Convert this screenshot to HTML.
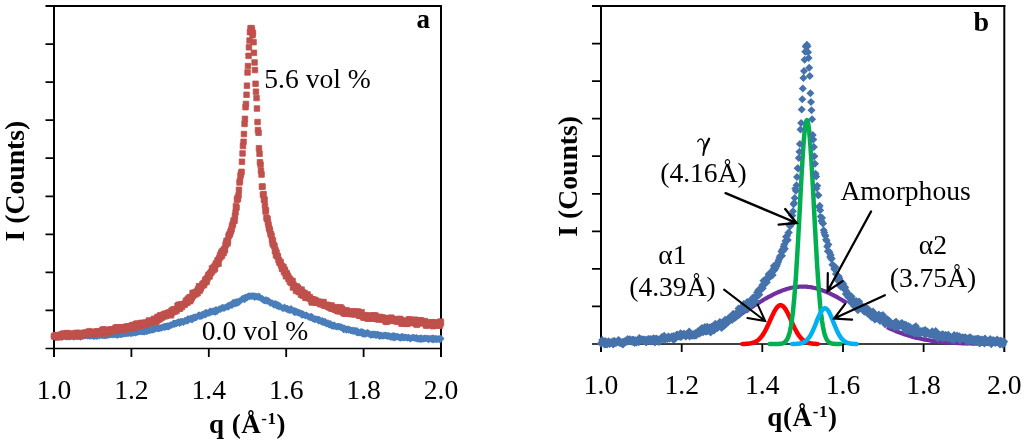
<!DOCTYPE html>
<html><head><meta charset="utf-8"><style>
html,body{margin:0;padding:0;background:#fff;width:1024px;height:443px;overflow:hidden;font-family:"Liberation Serif",serif}
svg{display:block;filter:blur(0.35px)}
</style></head><body>
<svg width="1024" height="443" viewBox="0 0 1024 443">
<rect width="1024" height="443" fill="#fff"/>
<path d="M45.5 6H442" stroke="#000" stroke-width="2"/>
<path d="M54 5V357" stroke="#000" stroke-width="2"/>
<path d="M441 5V357" stroke="#000" stroke-width="2"/>
<path d="M45.5 348.5H441" stroke="#000" stroke-width="1.5"/>
<path d="M45.5 44.1H54M45.5 82.1H54M45.5 120.2H54M45.5 158.2H54M45.5 196.3H54M45.5 234.3H54M45.5 272.4H54M45.5 310.4H54M131.4 348.5V357M208.8 348.5V357M286.2 348.5V357M363.6 348.5V357" stroke="#000" stroke-width="1.8"/>
<path fill="#4A7EBB" d="M54 333l3.5 3.5-3.5 3.5-3.5-3.5zM54.5 333.6l3.5 3.5-3.5 3.5-3.5-3.5zM55 333.6l3.5 3.5-3.5 3.5-3.5-3.5zM55.5 334l3.5 3.5-3.5 3.5-3.5-3.5zM56 332.5l3.5 3.5-3.5 3.5-3.5-3.5zM56.5 333.6l3.5 3.5-3.5 3.5-3.5-3.5zM57 333.1l3.5 3.5-3.5 3.5-3.5-3.5zM57.5 332.9l3.5 3.5-3.5 3.5-3.5-3.5zM58 333.5l3.5 3.5-3.5 3.5-3.5-3.5zM58.5 332.8l3.5 3.5-3.5 3.5-3.5-3.5zM59 332.2l3.5 3.5-3.5 3.5-3.5-3.5zM59.5 333l3.5 3.5-3.5 3.5-3.5-3.5zM60 332.4l3.5 3.5-3.5 3.5-3.5-3.5zM60.5 332.8l3.5 3.5-3.5 3.5-3.5-3.5zM61 333.4l3.5 3.5-3.5 3.5-3.5-3.5zM61.5 333.3l3.5 3.5-3.5 3.5-3.5-3.5zM62 334l3.5 3.5-3.5 3.5-3.5-3.5zM62.5 333l3.5 3.5-3.5 3.5-3.5-3.5zM63 332.3l3.5 3.5-3.5 3.5-3.5-3.5zM63.5 332.7l3.5 3.5-3.5 3.5-3.5-3.5zM64 332.6l3.5 3.5-3.5 3.5-3.5-3.5zM64.5 332.5l3.5 3.5-3.5 3.5-3.5-3.5zM65 333.3l3.5 3.5-3.5 3.5-3.5-3.5zM65.5 332.7l3.5 3.5-3.5 3.5-3.5-3.5zM66 332l3.5 3.5-3.5 3.5-3.5-3.5zM66.5 333.4l3.5 3.5-3.5 3.5-3.5-3.5zM67 333l3.5 3.5-3.5 3.5-3.5-3.5zM67.5 333.2l3.5 3.5-3.5 3.5-3.5-3.5zM68 333.1l3.5 3.5-3.5 3.5-3.5-3.5zM68.5 333.3l3.5 3.5-3.5 3.5-3.5-3.5zM69 333l3.5 3.5-3.5 3.5-3.5-3.5zM69.5 333.6l3.5 3.5-3.5 3.5-3.5-3.5zM70 333.2l3.5 3.5-3.5 3.5-3.5-3.5zM70.5 333.1l3.5 3.5-3.5 3.5-3.5-3.5zM71 333.1l3.5 3.5-3.5 3.5-3.5-3.5zM71.5 332.2l3.5 3.5-3.5 3.5-3.5-3.5zM72 332.8l3.5 3.5-3.5 3.5-3.5-3.5zM72.5 332.8l3.5 3.5-3.5 3.5-3.5-3.5zM73 333l3.5 3.5-3.5 3.5-3.5-3.5zM73.5 332.2l3.5 3.5-3.5 3.5-3.5-3.5zM74 333.7l3.5 3.5-3.5 3.5-3.5-3.5zM74.5 332.9l3.5 3.5-3.5 3.5-3.5-3.5zM75 332.2l3.5 3.5-3.5 3.5-3.5-3.5zM75.5 331.9l3.5 3.5-3.5 3.5-3.5-3.5zM76 332.6l3.5 3.5-3.5 3.5-3.5-3.5zM76.5 332.7l3.5 3.5-3.5 3.5-3.5-3.5zM77 332.4l3.5 3.5-3.5 3.5-3.5-3.5zM77.5 332.8l3.5 3.5-3.5 3.5-3.5-3.5zM78 332.4l3.5 3.5-3.5 3.5-3.5-3.5zM78.5 333l3.5 3.5-3.5 3.5-3.5-3.5zM79 332.3l3.5 3.5-3.5 3.5-3.5-3.5zM79.5 332.7l3.5 3.5-3.5 3.5-3.5-3.5zM80 333.2l3.5 3.5-3.5 3.5-3.5-3.5zM80.5 333.8l3.5 3.5-3.5 3.5-3.5-3.5zM81 332.1l3.5 3.5-3.5 3.5-3.5-3.5zM81.5 332.4l3.5 3.5-3.5 3.5-3.5-3.5zM82 332.2l3.5 3.5-3.5 3.5-3.5-3.5zM82.5 333l3.5 3.5-3.5 3.5-3.5-3.5zM83 332l3.5 3.5-3.5 3.5-3.5-3.5zM83.5 332.3l3.5 3.5-3.5 3.5-3.5-3.5zM84 332.5l3.5 3.5-3.5 3.5-3.5-3.5zM84.5 332l3.5 3.5-3.5 3.5-3.5-3.5zM85 332l3.5 3.5-3.5 3.5-3.5-3.5zM85.5 332.2l3.5 3.5-3.5 3.5-3.5-3.5zM86 331.4l3.5 3.5-3.5 3.5-3.5-3.5zM86.5 331.7l3.5 3.5-3.5 3.5-3.5-3.5zM87 332.2l3.5 3.5-3.5 3.5-3.5-3.5zM87.5 332.5l3.5 3.5-3.5 3.5-3.5-3.5zM88 332.3l3.5 3.5-3.5 3.5-3.5-3.5zM88.5 331.4l3.5 3.5-3.5 3.5-3.5-3.5zM89 332.1l3.5 3.5-3.5 3.5-3.5-3.5zM89.5 332.7l3.5 3.5-3.5 3.5-3.5-3.5zM90 332.6l3.5 3.5-3.5 3.5-3.5-3.5zM90.5 332.2l3.5 3.5-3.5 3.5-3.5-3.5zM91 331.8l3.5 3.5-3.5 3.5-3.5-3.5zM91.5 332.5l3.5 3.5-3.5 3.5-3.5-3.5zM92 331.9l3.5 3.5-3.5 3.5-3.5-3.5zM92.5 331.6l3.5 3.5-3.5 3.5-3.5-3.5zM93 331.7l3.5 3.5-3.5 3.5-3.5-3.5zM93.5 332.9l3.5 3.5-3.5 3.5-3.5-3.5zM94 332.2l3.5 3.5-3.5 3.5-3.5-3.5zM94.5 332.7l3.5 3.5-3.5 3.5-3.5-3.5zM95 331.8l3.5 3.5-3.5 3.5-3.5-3.5zM95.5 332.5l3.5 3.5-3.5 3.5-3.5-3.5zM96 331.7l3.5 3.5-3.5 3.5-3.5-3.5zM96.5 331.9l3.5 3.5-3.5 3.5-3.5-3.5zM97 333.1l3.5 3.5-3.5 3.5-3.5-3.5zM97.5 332.3l3.5 3.5-3.5 3.5-3.5-3.5zM98 331.6l3.5 3.5-3.5 3.5-3.5-3.5zM98.5 331.8l3.5 3.5-3.5 3.5-3.5-3.5zM99 332l3.5 3.5-3.5 3.5-3.5-3.5zM99.5 332.5l3.5 3.5-3.5 3.5-3.5-3.5zM100 331.5l3.5 3.5-3.5 3.5-3.5-3.5zM100.5 330.9l3.5 3.5-3.5 3.5-3.5-3.5zM101 331.6l3.5 3.5-3.5 3.5-3.5-3.5zM101.5 331.7l3.5 3.5-3.5 3.5-3.5-3.5zM102 331.7l3.5 3.5-3.5 3.5-3.5-3.5zM102.5 332.3l3.5 3.5-3.5 3.5-3.5-3.5zM103 331.8l3.5 3.5-3.5 3.5-3.5-3.5zM103.5 332l3.5 3.5-3.5 3.5-3.5-3.5zM104 331l3.5 3.5-3.5 3.5-3.5-3.5zM104.5 332l3.5 3.5-3.5 3.5-3.5-3.5zM105 332.6l3.5 3.5-3.5 3.5-3.5-3.5zM105.5 331.9l3.5 3.5-3.5 3.5-3.5-3.5zM106 331.6l3.5 3.5-3.5 3.5-3.5-3.5zM106.5 331.5l3.5 3.5-3.5 3.5-3.5-3.5zM107 332.3l3.5 3.5-3.5 3.5-3.5-3.5zM107.5 330.9l3.5 3.5-3.5 3.5-3.5-3.5zM108 331.3l3.5 3.5-3.5 3.5-3.5-3.5zM108.5 331.5l3.5 3.5-3.5 3.5-3.5-3.5zM109 331.6l3.5 3.5-3.5 3.5-3.5-3.5zM109.5 331l3.5 3.5-3.5 3.5-3.5-3.5zM110 331.3l3.5 3.5-3.5 3.5-3.5-3.5zM110.5 331l3.5 3.5-3.5 3.5-3.5-3.5zM111 331.2l3.5 3.5-3.5 3.5-3.5-3.5zM111.5 331l3.5 3.5-3.5 3.5-3.5-3.5zM112 330.4l3.5 3.5-3.5 3.5-3.5-3.5zM112.5 331l3.5 3.5-3.5 3.5-3.5-3.5zM113 331.4l3.5 3.5-3.5 3.5-3.5-3.5zM113.5 330.4l3.5 3.5-3.5 3.5-3.5-3.5zM114 330.8l3.5 3.5-3.5 3.5-3.5-3.5zM114.5 331.2l3.5 3.5-3.5 3.5-3.5-3.5zM115 330.2l3.5 3.5-3.5 3.5-3.5-3.5zM115.5 330.9l3.5 3.5-3.5 3.5-3.5-3.5zM116 330.2l3.5 3.5-3.5 3.5-3.5-3.5zM116.5 331.3l3.5 3.5-3.5 3.5-3.5-3.5zM117 331.8l3.5 3.5-3.5 3.5-3.5-3.5zM117.5 331.7l3.5 3.5-3.5 3.5-3.5-3.5zM118 330.4l3.5 3.5-3.5 3.5-3.5-3.5zM118.5 330.9l3.5 3.5-3.5 3.5-3.5-3.5zM119 330.5l3.5 3.5-3.5 3.5-3.5-3.5zM119.5 330.5l3.5 3.5-3.5 3.5-3.5-3.5zM120 331.2l3.5 3.5-3.5 3.5-3.5-3.5zM120.5 329.6l3.5 3.5-3.5 3.5-3.5-3.5zM121 330.9l3.5 3.5-3.5 3.5-3.5-3.5zM121.5 330.2l3.5 3.5-3.5 3.5-3.5-3.5zM122 331l3.5 3.5-3.5 3.5-3.5-3.5zM122.5 330.3l3.5 3.5-3.5 3.5-3.5-3.5zM123 329.8l3.5 3.5-3.5 3.5-3.5-3.5zM123.5 330.2l3.5 3.5-3.5 3.5-3.5-3.5zM124 330.4l3.5 3.5-3.5 3.5-3.5-3.5zM124.5 330l3.5 3.5-3.5 3.5-3.5-3.5zM125 330.2l3.5 3.5-3.5 3.5-3.5-3.5zM125.5 329.6l3.5 3.5-3.5 3.5-3.5-3.5zM126 328.7l3.5 3.5-3.5 3.5-3.5-3.5zM126.5 330.2l3.5 3.5-3.5 3.5-3.5-3.5zM127 330.1l3.5 3.5-3.5 3.5-3.5-3.5zM127.5 329.7l3.5 3.5-3.5 3.5-3.5-3.5zM128 329.6l3.5 3.5-3.5 3.5-3.5-3.5zM128.5 330.1l3.5 3.5-3.5 3.5-3.5-3.5zM129 329.2l3.5 3.5-3.5 3.5-3.5-3.5zM129.5 329.1l3.5 3.5-3.5 3.5-3.5-3.5zM130 329.3l3.5 3.5-3.5 3.5-3.5-3.5zM130.5 330l3.5 3.5-3.5 3.5-3.5-3.5zM131 328.5l3.5 3.5-3.5 3.5-3.5-3.5zM131.5 329.9l3.5 3.5-3.5 3.5-3.5-3.5zM132 328.8l3.5 3.5-3.5 3.5-3.5-3.5zM132.5 328.5l3.5 3.5-3.5 3.5-3.5-3.5zM133 329.7l3.5 3.5-3.5 3.5-3.5-3.5zM133.5 328.9l3.5 3.5-3.5 3.5-3.5-3.5zM134 328.2l3.5 3.5-3.5 3.5-3.5-3.5zM134.5 328.6l3.5 3.5-3.5 3.5-3.5-3.5zM135 329.3l3.5 3.5-3.5 3.5-3.5-3.5zM135.5 329.4l3.5 3.5-3.5 3.5-3.5-3.5zM136 328.4l3.5 3.5-3.5 3.5-3.5-3.5zM136.5 328.8l3.5 3.5-3.5 3.5-3.5-3.5zM137 328.9l3.5 3.5-3.5 3.5-3.5-3.5zM137.5 328.1l3.5 3.5-3.5 3.5-3.5-3.5zM138 328.6l3.5 3.5-3.5 3.5-3.5-3.5zM138.5 328.3l3.5 3.5-3.5 3.5-3.5-3.5zM139 327.9l3.5 3.5-3.5 3.5-3.5-3.5zM139.5 327.9l3.5 3.5-3.5 3.5-3.5-3.5zM140 328.1l3.5 3.5-3.5 3.5-3.5-3.5zM140.5 328l3.5 3.5-3.5 3.5-3.5-3.5zM141 327.6l3.5 3.5-3.5 3.5-3.5-3.5zM141.5 327.6l3.5 3.5-3.5 3.5-3.5-3.5zM142 328.4l3.5 3.5-3.5 3.5-3.5-3.5zM142.5 327.8l3.5 3.5-3.5 3.5-3.5-3.5zM143 328.1l3.5 3.5-3.5 3.5-3.5-3.5zM143.5 328.2l3.5 3.5-3.5 3.5-3.5-3.5zM144 327.8l3.5 3.5-3.5 3.5-3.5-3.5zM144.5 328.6l3.5 3.5-3.5 3.5-3.5-3.5zM145 326.9l3.5 3.5-3.5 3.5-3.5-3.5zM145.5 327.7l3.5 3.5-3.5 3.5-3.5-3.5zM146 327l3.5 3.5-3.5 3.5-3.5-3.5zM146.5 328.1l3.5 3.5-3.5 3.5-3.5-3.5zM147 327.9l3.5 3.5-3.5 3.5-3.5-3.5zM147.5 325.8l3.5 3.5-3.5 3.5-3.5-3.5zM148 326.3l3.5 3.5-3.5 3.5-3.5-3.5zM148.5 327.1l3.5 3.5-3.5 3.5-3.5-3.5zM149 327.1l3.5 3.5-3.5 3.5-3.5-3.5zM149.5 327l3.5 3.5-3.5 3.5-3.5-3.5zM150 326.4l3.5 3.5-3.5 3.5-3.5-3.5zM150.5 326.6l3.5 3.5-3.5 3.5-3.5-3.5zM151 326.6l3.5 3.5-3.5 3.5-3.5-3.5zM151.5 326.1l3.5 3.5-3.5 3.5-3.5-3.5zM152 326.7l3.5 3.5-3.5 3.5-3.5-3.5zM152.5 324.7l3.5 3.5-3.5 3.5-3.5-3.5zM153 326.3l3.5 3.5-3.5 3.5-3.5-3.5zM153.5 325.2l3.5 3.5-3.5 3.5-3.5-3.5zM154 326.2l3.5 3.5-3.5 3.5-3.5-3.5zM154.5 325.5l3.5 3.5-3.5 3.5-3.5-3.5zM155 325l3.5 3.5-3.5 3.5-3.5-3.5zM155.5 325.6l3.5 3.5-3.5 3.5-3.5-3.5zM156 324.8l3.5 3.5-3.5 3.5-3.5-3.5zM156.5 324.7l3.5 3.5-3.5 3.5-3.5-3.5zM157 324.2l3.5 3.5-3.5 3.5-3.5-3.5zM157.5 325l3.5 3.5-3.5 3.5-3.5-3.5zM158 325.1l3.5 3.5-3.5 3.5-3.5-3.5zM158.5 325.3l3.5 3.5-3.5 3.5-3.5-3.5zM159 324.6l3.5 3.5-3.5 3.5-3.5-3.5zM159.5 325.1l3.5 3.5-3.5 3.5-3.5-3.5zM160 324.4l3.5 3.5-3.5 3.5-3.5-3.5zM160.5 324.2l3.5 3.5-3.5 3.5-3.5-3.5zM161 324.5l3.5 3.5-3.5 3.5-3.5-3.5zM161.5 324.7l3.5 3.5-3.5 3.5-3.5-3.5zM162 323.8l3.5 3.5-3.5 3.5-3.5-3.5zM162.5 323.7l3.5 3.5-3.5 3.5-3.5-3.5zM163 323.6l3.5 3.5-3.5 3.5-3.5-3.5zM163.5 323.6l3.5 3.5-3.5 3.5-3.5-3.5zM164 322.9l3.5 3.5-3.5 3.5-3.5-3.5zM164.5 323.9l3.5 3.5-3.5 3.5-3.5-3.5zM165 323l3.5 3.5-3.5 3.5-3.5-3.5zM165.5 323.4l3.5 3.5-3.5 3.5-3.5-3.5zM166 322.5l3.5 3.5-3.5 3.5-3.5-3.5zM166.5 323.1l3.5 3.5-3.5 3.5-3.5-3.5zM167 322.9l3.5 3.5-3.5 3.5-3.5-3.5zM167.5 322.3l3.5 3.5-3.5 3.5-3.5-3.5zM168 323.6l3.5 3.5-3.5 3.5-3.5-3.5zM168.5 322.5l3.5 3.5-3.5 3.5-3.5-3.5zM169 323.2l3.5 3.5-3.5 3.5-3.5-3.5zM169.5 322.6l3.5 3.5-3.5 3.5-3.5-3.5zM170 321.5l3.5 3.5-3.5 3.5-3.5-3.5zM170.5 321.6l3.5 3.5-3.5 3.5-3.5-3.5zM171 321.9l3.5 3.5-3.5 3.5-3.5-3.5zM171.5 321.5l3.5 3.5-3.5 3.5-3.5-3.5zM172 321.4l3.5 3.5-3.5 3.5-3.5-3.5zM172.5 321l3.5 3.5-3.5 3.5-3.5-3.5zM173 320l3.5 3.5-3.5 3.5-3.5-3.5zM173.5 320.8l3.5 3.5-3.5 3.5-3.5-3.5zM174 319.5l3.5 3.5-3.5 3.5-3.5-3.5zM174.5 320.9l3.5 3.5-3.5 3.5-3.5-3.5zM175 320.1l3.5 3.5-3.5 3.5-3.5-3.5zM175.5 319.9l3.5 3.5-3.5 3.5-3.5-3.5zM176 320.1l3.5 3.5-3.5 3.5-3.5-3.5zM176.5 320.2l3.5 3.5-3.5 3.5-3.5-3.5zM177 319l3.5 3.5-3.5 3.5-3.5-3.5zM177.5 318.7l3.5 3.5-3.5 3.5-3.5-3.5zM178 318.9l3.5 3.5-3.5 3.5-3.5-3.5zM178.5 318.2l3.5 3.5-3.5 3.5-3.5-3.5zM179 318.7l3.5 3.5-3.5 3.5-3.5-3.5zM179.5 320.1l3.5 3.5-3.5 3.5-3.5-3.5zM180 318.3l3.5 3.5-3.5 3.5-3.5-3.5zM180.5 319.2l3.5 3.5-3.5 3.5-3.5-3.5zM181 317.8l3.5 3.5-3.5 3.5-3.5-3.5zM181.5 318.7l3.5 3.5-3.5 3.5-3.5-3.5zM182 318.1l3.5 3.5-3.5 3.5-3.5-3.5zM182.5 318.1l3.5 3.5-3.5 3.5-3.5-3.5zM183 318.4l3.5 3.5-3.5 3.5-3.5-3.5zM183.5 318.9l3.5 3.5-3.5 3.5-3.5-3.5zM184 317.8l3.5 3.5-3.5 3.5-3.5-3.5zM184.5 317.6l3.5 3.5-3.5 3.5-3.5-3.5zM185 316.8l3.5 3.5-3.5 3.5-3.5-3.5zM185.5 317.6l3.5 3.5-3.5 3.5-3.5-3.5zM186 316.9l3.5 3.5-3.5 3.5-3.5-3.5zM186.5 317.4l3.5 3.5-3.5 3.5-3.5-3.5zM187 316.7l3.5 3.5-3.5 3.5-3.5-3.5zM187.5 317.6l3.5 3.5-3.5 3.5-3.5-3.5zM188 315.1l3.5 3.5-3.5 3.5-3.5-3.5zM188.5 316l3.5 3.5-3.5 3.5-3.5-3.5zM189 316.6l3.5 3.5-3.5 3.5-3.5-3.5zM189.5 315.6l3.5 3.5-3.5 3.5-3.5-3.5zM190 315.2l3.5 3.5-3.5 3.5-3.5-3.5zM190.5 315.4l3.5 3.5-3.5 3.5-3.5-3.5zM191 314.5l3.5 3.5-3.5 3.5-3.5-3.5zM191.5 315.3l3.5 3.5-3.5 3.5-3.5-3.5zM192 316.4l3.5 3.5-3.5 3.5-3.5-3.5zM192.5 315.6l3.5 3.5-3.5 3.5-3.5-3.5zM193 314l3.5 3.5-3.5 3.5-3.5-3.5zM193.5 313.9l3.5 3.5-3.5 3.5-3.5-3.5zM194 314.1l3.5 3.5-3.5 3.5-3.5-3.5zM194.5 314.8l3.5 3.5-3.5 3.5-3.5-3.5zM195 313.5l3.5 3.5-3.5 3.5-3.5-3.5zM195.5 313.4l3.5 3.5-3.5 3.5-3.5-3.5zM196 314.2l3.5 3.5-3.5 3.5-3.5-3.5zM196.5 314l3.5 3.5-3.5 3.5-3.5-3.5zM197 313.1l3.5 3.5-3.5 3.5-3.5-3.5zM197.5 312.4l3.5 3.5-3.5 3.5-3.5-3.5zM198 312l3.5 3.5-3.5 3.5-3.5-3.5zM198.5 312.3l3.5 3.5-3.5 3.5-3.5-3.5zM199 311.2l3.5 3.5-3.5 3.5-3.5-3.5zM199.5 312.9l3.5 3.5-3.5 3.5-3.5-3.5zM200 311.9l3.5 3.5-3.5 3.5-3.5-3.5zM200.5 312.4l3.5 3.5-3.5 3.5-3.5-3.5zM201 313.1l3.5 3.5-3.5 3.5-3.5-3.5zM201.5 312.5l3.5 3.5-3.5 3.5-3.5-3.5zM202 310.8l3.5 3.5-3.5 3.5-3.5-3.5zM202.5 312l3.5 3.5-3.5 3.5-3.5-3.5zM203 312l3.5 3.5-3.5 3.5-3.5-3.5zM203.5 310.6l3.5 3.5-3.5 3.5-3.5-3.5zM204 310.3l3.5 3.5-3.5 3.5-3.5-3.5zM204.5 310.7l3.5 3.5-3.5 3.5-3.5-3.5zM205 309.5l3.5 3.5-3.5 3.5-3.5-3.5zM205.5 311.4l3.5 3.5-3.5 3.5-3.5-3.5zM206 308.8l3.5 3.5-3.5 3.5-3.5-3.5zM206.5 309.4l3.5 3.5-3.5 3.5-3.5-3.5zM207 309.7l3.5 3.5-3.5 3.5-3.5-3.5zM207.5 309.6l3.5 3.5-3.5 3.5-3.5-3.5zM208 309.7l3.5 3.5-3.5 3.5-3.5-3.5zM208.5 309.6l3.5 3.5-3.5 3.5-3.5-3.5zM209 309.1l3.5 3.5-3.5 3.5-3.5-3.5zM209.5 309.8l3.5 3.5-3.5 3.5-3.5-3.5zM210 307.5l3.5 3.5-3.5 3.5-3.5-3.5zM210.5 308.8l3.5 3.5-3.5 3.5-3.5-3.5zM211 308.1l3.5 3.5-3.5 3.5-3.5-3.5zM211.5 308.5l3.5 3.5-3.5 3.5-3.5-3.5zM212 308.4l3.5 3.5-3.5 3.5-3.5-3.5zM212.5 307.5l3.5 3.5-3.5 3.5-3.5-3.5zM213 307.5l3.5 3.5-3.5 3.5-3.5-3.5zM213.5 308.3l3.5 3.5-3.5 3.5-3.5-3.5zM214 307.8l3.5 3.5-3.5 3.5-3.5-3.5zM214.5 307l3.5 3.5-3.5 3.5-3.5-3.5zM215 308.7l3.5 3.5-3.5 3.5-3.5-3.5zM215.5 308.6l3.5 3.5-3.5 3.5-3.5-3.5zM216 306l3.5 3.5-3.5 3.5-3.5-3.5zM216.5 307l3.5 3.5-3.5 3.5-3.5-3.5zM217 308.1l3.5 3.5-3.5 3.5-3.5-3.5zM217.5 307l3.5 3.5-3.5 3.5-3.5-3.5zM218 306.4l3.5 3.5-3.5 3.5-3.5-3.5zM218.5 306l3.5 3.5-3.5 3.5-3.5-3.5zM219 305.6l3.5 3.5-3.5 3.5-3.5-3.5zM219.5 305.7l3.5 3.5-3.5 3.5-3.5-3.5zM220 305.3l3.5 3.5-3.5 3.5-3.5-3.5zM220.5 306l3.5 3.5-3.5 3.5-3.5-3.5zM221 305l3.5 3.5-3.5 3.5-3.5-3.5zM221.5 304.8l3.5 3.5-3.5 3.5-3.5-3.5zM222 304.1l3.5 3.5-3.5 3.5-3.5-3.5zM222.5 304.7l3.5 3.5-3.5 3.5-3.5-3.5zM223 304l3.5 3.5-3.5 3.5-3.5-3.5zM223.5 304.3l3.5 3.5-3.5 3.5-3.5-3.5zM224 305l3.5 3.5-3.5 3.5-3.5-3.5zM224.5 304.3l3.5 3.5-3.5 3.5-3.5-3.5zM225 304.2l3.5 3.5-3.5 3.5-3.5-3.5zM225.5 303.9l3.5 3.5-3.5 3.5-3.5-3.5zM226 303.6l3.5 3.5-3.5 3.5-3.5-3.5zM226.5 303.2l3.5 3.5-3.5 3.5-3.5-3.5zM227 302.9l3.5 3.5-3.5 3.5-3.5-3.5zM227.5 303.5l3.5 3.5-3.5 3.5-3.5-3.5zM228 302l3.5 3.5-3.5 3.5-3.5-3.5zM228.5 303.5l3.5 3.5-3.5 3.5-3.5-3.5zM229 302.4l3.5 3.5-3.5 3.5-3.5-3.5zM229.5 301.6l3.5 3.5-3.5 3.5-3.5-3.5zM230 301.6l3.5 3.5-3.5 3.5-3.5-3.5zM230.5 301.2l3.5 3.5-3.5 3.5-3.5-3.5zM231 301.6l3.5 3.5-3.5 3.5-3.5-3.5zM231.5 300.8l3.5 3.5-3.5 3.5-3.5-3.5zM232 301.9l3.5 3.5-3.5 3.5-3.5-3.5zM232.5 300.3l3.5 3.5-3.5 3.5-3.5-3.5zM233 299.1l3.5 3.5-3.5 3.5-3.5-3.5zM233.5 299.8l3.5 3.5-3.5 3.5-3.5-3.5zM234 298.7l3.5 3.5-3.5 3.5-3.5-3.5zM234.5 299.9l3.5 3.5-3.5 3.5-3.5-3.5zM235 300.4l3.5 3.5-3.5 3.5-3.5-3.5zM235.5 299.8l3.5 3.5-3.5 3.5-3.5-3.5zM236 298.2l3.5 3.5-3.5 3.5-3.5-3.5zM236.5 298.3l3.5 3.5-3.5 3.5-3.5-3.5zM237 299.9l3.5 3.5-3.5 3.5-3.5-3.5zM237.5 298.6l3.5 3.5-3.5 3.5-3.5-3.5zM238 298.1l3.5 3.5-3.5 3.5-3.5-3.5zM238.5 298.6l3.5 3.5-3.5 3.5-3.5-3.5zM239 299.1l3.5 3.5-3.5 3.5-3.5-3.5zM239.5 298.2l3.5 3.5-3.5 3.5-3.5-3.5zM240 297.1l3.5 3.5-3.5 3.5-3.5-3.5zM240.5 297l3.5 3.5-3.5 3.5-3.5-3.5zM241 296.9l3.5 3.5-3.5 3.5-3.5-3.5zM241.5 295.8l3.5 3.5-3.5 3.5-3.5-3.5zM242 295.2l3.5 3.5-3.5 3.5-3.5-3.5zM242.5 295.7l3.5 3.5-3.5 3.5-3.5-3.5zM243 294.7l3.5 3.5-3.5 3.5-3.5-3.5zM243.5 295.1l3.5 3.5-3.5 3.5-3.5-3.5zM244 295l3.5 3.5-3.5 3.5-3.5-3.5zM244.5 296.3l3.5 3.5-3.5 3.5-3.5-3.5zM245 293.8l3.5 3.5-3.5 3.5-3.5-3.5zM245.5 294.1l3.5 3.5-3.5 3.5-3.5-3.5zM246 293.9l3.5 3.5-3.5 3.5-3.5-3.5zM246.5 294.1l3.5 3.5-3.5 3.5-3.5-3.5zM247 294.4l3.5 3.5-3.5 3.5-3.5-3.5zM247.5 293.1l3.5 3.5-3.5 3.5-3.5-3.5zM248 292.7l3.5 3.5-3.5 3.5-3.5-3.5zM248.5 292.6l3.5 3.5-3.5 3.5-3.5-3.5zM249 292.6l3.5 3.5-3.5 3.5-3.5-3.5zM249.5 293.3l3.5 3.5-3.5 3.5-3.5-3.5zM250 292.8l3.5 3.5-3.5 3.5-3.5-3.5zM250.5 292.6l3.5 3.5-3.5 3.5-3.5-3.5zM251 292.6l3.5 3.5-3.5 3.5-3.5-3.5zM251.5 292.6l3.5 3.5-3.5 3.5-3.5-3.5zM252 293l3.5 3.5-3.5 3.5-3.5-3.5zM252.5 292.6l3.5 3.5-3.5 3.5-3.5-3.5zM253 292.6l3.5 3.5-3.5 3.5-3.5-3.5zM253.5 292.6l3.5 3.5-3.5 3.5-3.5-3.5zM254 292.6l3.5 3.5-3.5 3.5-3.5-3.5zM254.5 294l3.5 3.5-3.5 3.5-3.5-3.5zM255 292.6l3.5 3.5-3.5 3.5-3.5-3.5zM255.5 292.7l3.5 3.5-3.5 3.5-3.5-3.5zM256 293.2l3.5 3.5-3.5 3.5-3.5-3.5zM256.5 292.9l3.5 3.5-3.5 3.5-3.5-3.5zM257 292.7l3.5 3.5-3.5 3.5-3.5-3.5zM257.5 293.4l3.5 3.5-3.5 3.5-3.5-3.5zM258 293.6l3.5 3.5-3.5 3.5-3.5-3.5zM258.5 293.7l3.5 3.5-3.5 3.5-3.5-3.5zM259 292.6l3.5 3.5-3.5 3.5-3.5-3.5zM259.5 294l3.5 3.5-3.5 3.5-3.5-3.5zM260 293.7l3.5 3.5-3.5 3.5-3.5-3.5zM260.5 294.1l3.5 3.5-3.5 3.5-3.5-3.5zM261 294.9l3.5 3.5-3.5 3.5-3.5-3.5zM261.5 295.4l3.5 3.5-3.5 3.5-3.5-3.5zM262 295.8l3.5 3.5-3.5 3.5-3.5-3.5zM262.5 295l3.5 3.5-3.5 3.5-3.5-3.5zM263 296.3l3.5 3.5-3.5 3.5-3.5-3.5zM263.5 296.7l3.5 3.5-3.5 3.5-3.5-3.5zM264 296.9l3.5 3.5-3.5 3.5-3.5-3.5zM264.5 297.3l3.5 3.5-3.5 3.5-3.5-3.5zM265 296.4l3.5 3.5-3.5 3.5-3.5-3.5zM265.5 296.6l3.5 3.5-3.5 3.5-3.5-3.5zM266 297.6l3.5 3.5-3.5 3.5-3.5-3.5zM266.5 296.3l3.5 3.5-3.5 3.5-3.5-3.5zM267 297.6l3.5 3.5-3.5 3.5-3.5-3.5zM267.5 297.3l3.5 3.5-3.5 3.5-3.5-3.5zM268 297.7l3.5 3.5-3.5 3.5-3.5-3.5zM268.5 296.9l3.5 3.5-3.5 3.5-3.5-3.5zM269 297.8l3.5 3.5-3.5 3.5-3.5-3.5zM269.5 298.6l3.5 3.5-3.5 3.5-3.5-3.5zM270 299.5l3.5 3.5-3.5 3.5-3.5-3.5zM270.5 299.8l3.5 3.5-3.5 3.5-3.5-3.5zM271 299.2l3.5 3.5-3.5 3.5-3.5-3.5zM271.5 299.4l3.5 3.5-3.5 3.5-3.5-3.5zM272 299.2l3.5 3.5-3.5 3.5-3.5-3.5zM272.5 300.2l3.5 3.5-3.5 3.5-3.5-3.5zM273 300l3.5 3.5-3.5 3.5-3.5-3.5zM273.5 300.8l3.5 3.5-3.5 3.5-3.5-3.5zM274 301.8l3.5 3.5-3.5 3.5-3.5-3.5zM274.5 300.8l3.5 3.5-3.5 3.5-3.5-3.5zM275 299.9l3.5 3.5-3.5 3.5-3.5-3.5zM275.5 300.6l3.5 3.5-3.5 3.5-3.5-3.5zM276 300.4l3.5 3.5-3.5 3.5-3.5-3.5zM276.5 300.8l3.5 3.5-3.5 3.5-3.5-3.5zM277 302.7l3.5 3.5-3.5 3.5-3.5-3.5zM277.5 302.1l3.5 3.5-3.5 3.5-3.5-3.5zM278 301.1l3.5 3.5-3.5 3.5-3.5-3.5zM278.5 302.8l3.5 3.5-3.5 3.5-3.5-3.5zM279 303.4l3.5 3.5-3.5 3.5-3.5-3.5zM279.5 302.5l3.5 3.5-3.5 3.5-3.5-3.5zM280 302.4l3.5 3.5-3.5 3.5-3.5-3.5zM280.5 302.8l3.5 3.5-3.5 3.5-3.5-3.5zM281 303.4l3.5 3.5-3.5 3.5-3.5-3.5zM281.5 303.9l3.5 3.5-3.5 3.5-3.5-3.5zM282 304.4l3.5 3.5-3.5 3.5-3.5-3.5zM282.5 304.6l3.5 3.5-3.5 3.5-3.5-3.5zM283 304.8l3.5 3.5-3.5 3.5-3.5-3.5zM283.5 305l3.5 3.5-3.5 3.5-3.5-3.5zM284 304.7l3.5 3.5-3.5 3.5-3.5-3.5zM284.5 303.4l3.5 3.5-3.5 3.5-3.5-3.5zM285 304.5l3.5 3.5-3.5 3.5-3.5-3.5zM285.5 305l3.5 3.5-3.5 3.5-3.5-3.5zM286 304.7l3.5 3.5-3.5 3.5-3.5-3.5zM286.5 305.7l3.5 3.5-3.5 3.5-3.5-3.5zM287 305l3.5 3.5-3.5 3.5-3.5-3.5zM287.5 304.8l3.5 3.5-3.5 3.5-3.5-3.5zM288 306.6l3.5 3.5-3.5 3.5-3.5-3.5zM288.5 306.2l3.5 3.5-3.5 3.5-3.5-3.5zM289 306.1l3.5 3.5-3.5 3.5-3.5-3.5zM289.5 306.7l3.5 3.5-3.5 3.5-3.5-3.5zM290 307l3.5 3.5-3.5 3.5-3.5-3.5zM290.5 306.7l3.5 3.5-3.5 3.5-3.5-3.5zM291 305.1l3.5 3.5-3.5 3.5-3.5-3.5zM291.5 306.3l3.5 3.5-3.5 3.5-3.5-3.5zM292 306.6l3.5 3.5-3.5 3.5-3.5-3.5zM292.5 306.4l3.5 3.5-3.5 3.5-3.5-3.5zM293 307.4l3.5 3.5-3.5 3.5-3.5-3.5zM293.5 308.2l3.5 3.5-3.5 3.5-3.5-3.5zM294 307.3l3.5 3.5-3.5 3.5-3.5-3.5zM294.5 307l3.5 3.5-3.5 3.5-3.5-3.5zM295 309.3l3.5 3.5-3.5 3.5-3.5-3.5zM295.5 307.8l3.5 3.5-3.5 3.5-3.5-3.5zM296 307.4l3.5 3.5-3.5 3.5-3.5-3.5zM296.5 308.6l3.5 3.5-3.5 3.5-3.5-3.5zM297 308.9l3.5 3.5-3.5 3.5-3.5-3.5zM297.5 308.3l3.5 3.5-3.5 3.5-3.5-3.5zM298 309.5l3.5 3.5-3.5 3.5-3.5-3.5zM298.5 308.8l3.5 3.5-3.5 3.5-3.5-3.5zM299 308.7l3.5 3.5-3.5 3.5-3.5-3.5zM299.5 309.6l3.5 3.5-3.5 3.5-3.5-3.5zM300 310.2l3.5 3.5-3.5 3.5-3.5-3.5zM300.5 309.4l3.5 3.5-3.5 3.5-3.5-3.5zM301 310.2l3.5 3.5-3.5 3.5-3.5-3.5zM301.5 310.1l3.5 3.5-3.5 3.5-3.5-3.5zM302 311.8l3.5 3.5-3.5 3.5-3.5-3.5zM302.5 310.1l3.5 3.5-3.5 3.5-3.5-3.5zM303 311.6l3.5 3.5-3.5 3.5-3.5-3.5zM303.5 310.9l3.5 3.5-3.5 3.5-3.5-3.5zM304 311l3.5 3.5-3.5 3.5-3.5-3.5zM304.5 311.7l3.5 3.5-3.5 3.5-3.5-3.5zM305 312l3.5 3.5-3.5 3.5-3.5-3.5zM305.5 312.5l3.5 3.5-3.5 3.5-3.5-3.5zM306 312l3.5 3.5-3.5 3.5-3.5-3.5zM306.5 311.6l3.5 3.5-3.5 3.5-3.5-3.5zM307 311.8l3.5 3.5-3.5 3.5-3.5-3.5zM307.5 312.7l3.5 3.5-3.5 3.5-3.5-3.5zM308 312.9l3.5 3.5-3.5 3.5-3.5-3.5zM308.5 313.6l3.5 3.5-3.5 3.5-3.5-3.5zM309 313.2l3.5 3.5-3.5 3.5-3.5-3.5zM309.5 313.8l3.5 3.5-3.5 3.5-3.5-3.5zM310 314.3l3.5 3.5-3.5 3.5-3.5-3.5zM310.5 313.6l3.5 3.5-3.5 3.5-3.5-3.5zM311 312.7l3.5 3.5-3.5 3.5-3.5-3.5zM311.5 313.1l3.5 3.5-3.5 3.5-3.5-3.5zM312 313.2l3.5 3.5-3.5 3.5-3.5-3.5zM312.5 315.3l3.5 3.5-3.5 3.5-3.5-3.5zM313 313.9l3.5 3.5-3.5 3.5-3.5-3.5zM313.5 315.4l3.5 3.5-3.5 3.5-3.5-3.5zM314 315.2l3.5 3.5-3.5 3.5-3.5-3.5zM314.5 316.1l3.5 3.5-3.5 3.5-3.5-3.5zM315 315.9l3.5 3.5-3.5 3.5-3.5-3.5zM315.5 315.3l3.5 3.5-3.5 3.5-3.5-3.5zM316 315.5l3.5 3.5-3.5 3.5-3.5-3.5zM316.5 315.8l3.5 3.5-3.5 3.5-3.5-3.5zM317 316.1l3.5 3.5-3.5 3.5-3.5-3.5zM317.5 315.8l3.5 3.5-3.5 3.5-3.5-3.5zM318 316.3l3.5 3.5-3.5 3.5-3.5-3.5zM318.5 317.6l3.5 3.5-3.5 3.5-3.5-3.5zM319 315.7l3.5 3.5-3.5 3.5-3.5-3.5zM319.5 317.1l3.5 3.5-3.5 3.5-3.5-3.5zM320 316.6l3.5 3.5-3.5 3.5-3.5-3.5zM320.5 317.4l3.5 3.5-3.5 3.5-3.5-3.5zM321 318l3.5 3.5-3.5 3.5-3.5-3.5zM321.5 317.7l3.5 3.5-3.5 3.5-3.5-3.5zM322 318.4l3.5 3.5-3.5 3.5-3.5-3.5zM322.5 317.1l3.5 3.5-3.5 3.5-3.5-3.5zM323 318.9l3.5 3.5-3.5 3.5-3.5-3.5zM323.5 318.1l3.5 3.5-3.5 3.5-3.5-3.5zM324 319l3.5 3.5-3.5 3.5-3.5-3.5zM324.5 318.9l3.5 3.5-3.5 3.5-3.5-3.5zM325 317.7l3.5 3.5-3.5 3.5-3.5-3.5zM325.5 318.7l3.5 3.5-3.5 3.5-3.5-3.5zM326 319.5l3.5 3.5-3.5 3.5-3.5-3.5zM326.5 320.5l3.5 3.5-3.5 3.5-3.5-3.5zM327 319.9l3.5 3.5-3.5 3.5-3.5-3.5zM327.5 320.1l3.5 3.5-3.5 3.5-3.5-3.5zM328 319.2l3.5 3.5-3.5 3.5-3.5-3.5zM328.5 321.1l3.5 3.5-3.5 3.5-3.5-3.5zM329 321.5l3.5 3.5-3.5 3.5-3.5-3.5zM329.5 320.6l3.5 3.5-3.5 3.5-3.5-3.5zM330 320.7l3.5 3.5-3.5 3.5-3.5-3.5zM330.5 320l3.5 3.5-3.5 3.5-3.5-3.5zM331 321.7l3.5 3.5-3.5 3.5-3.5-3.5zM331.5 322.6l3.5 3.5-3.5 3.5-3.5-3.5zM332 321.9l3.5 3.5-3.5 3.5-3.5-3.5zM332.5 322.4l3.5 3.5-3.5 3.5-3.5-3.5zM333 322.1l3.5 3.5-3.5 3.5-3.5-3.5zM333.5 321.4l3.5 3.5-3.5 3.5-3.5-3.5zM334 322.9l3.5 3.5-3.5 3.5-3.5-3.5zM334.5 321.6l3.5 3.5-3.5 3.5-3.5-3.5zM335 322.3l3.5 3.5-3.5 3.5-3.5-3.5zM335.5 322.8l3.5 3.5-3.5 3.5-3.5-3.5zM336 323.3l3.5 3.5-3.5 3.5-3.5-3.5zM336.5 323.2l3.5 3.5-3.5 3.5-3.5-3.5zM337 323.3l3.5 3.5-3.5 3.5-3.5-3.5zM337.5 322.8l3.5 3.5-3.5 3.5-3.5-3.5zM338 322.7l3.5 3.5-3.5 3.5-3.5-3.5zM338.5 323.6l3.5 3.5-3.5 3.5-3.5-3.5zM339 323.3l3.5 3.5-3.5 3.5-3.5-3.5zM339.5 323.1l3.5 3.5-3.5 3.5-3.5-3.5zM340 323.3l3.5 3.5-3.5 3.5-3.5-3.5zM340.5 323.9l3.5 3.5-3.5 3.5-3.5-3.5zM341 323.3l3.5 3.5-3.5 3.5-3.5-3.5zM341.5 323.7l3.5 3.5-3.5 3.5-3.5-3.5zM342 323.7l3.5 3.5-3.5 3.5-3.5-3.5zM342.5 324.9l3.5 3.5-3.5 3.5-3.5-3.5zM343 325.1l3.5 3.5-3.5 3.5-3.5-3.5zM343.5 326.2l3.5 3.5-3.5 3.5-3.5-3.5zM344 324.3l3.5 3.5-3.5 3.5-3.5-3.5zM344.5 324.9l3.5 3.5-3.5 3.5-3.5-3.5zM345 326l3.5 3.5-3.5 3.5-3.5-3.5zM345.5 325.5l3.5 3.5-3.5 3.5-3.5-3.5zM346 325.5l3.5 3.5-3.5 3.5-3.5-3.5zM346.5 326.8l3.5 3.5-3.5 3.5-3.5-3.5zM347 325.8l3.5 3.5-3.5 3.5-3.5-3.5zM347.5 325.4l3.5 3.5-3.5 3.5-3.5-3.5zM348 325.5l3.5 3.5-3.5 3.5-3.5-3.5zM348.5 326.5l3.5 3.5-3.5 3.5-3.5-3.5zM349 326.6l3.5 3.5-3.5 3.5-3.5-3.5zM349.5 325.8l3.5 3.5-3.5 3.5-3.5-3.5zM350 326.2l3.5 3.5-3.5 3.5-3.5-3.5zM350.5 327.1l3.5 3.5-3.5 3.5-3.5-3.5zM351 327.3l3.5 3.5-3.5 3.5-3.5-3.5zM351.5 326.7l3.5 3.5-3.5 3.5-3.5-3.5zM352 327.5l3.5 3.5-3.5 3.5-3.5-3.5zM352.5 327.6l3.5 3.5-3.5 3.5-3.5-3.5zM353 326.4l3.5 3.5-3.5 3.5-3.5-3.5zM353.5 327.4l3.5 3.5-3.5 3.5-3.5-3.5zM354 327.9l3.5 3.5-3.5 3.5-3.5-3.5zM354.5 327.4l3.5 3.5-3.5 3.5-3.5-3.5zM355 326.7l3.5 3.5-3.5 3.5-3.5-3.5zM355.5 327.8l3.5 3.5-3.5 3.5-3.5-3.5zM356 328.5l3.5 3.5-3.5 3.5-3.5-3.5zM356.5 329l3.5 3.5-3.5 3.5-3.5-3.5zM357 327.1l3.5 3.5-3.5 3.5-3.5-3.5zM357.5 329.6l3.5 3.5-3.5 3.5-3.5-3.5zM358 327.9l3.5 3.5-3.5 3.5-3.5-3.5zM358.5 329.1l3.5 3.5-3.5 3.5-3.5-3.5zM359 329.3l3.5 3.5-3.5 3.5-3.5-3.5zM359.5 329.3l3.5 3.5-3.5 3.5-3.5-3.5zM360 329l3.5 3.5-3.5 3.5-3.5-3.5zM360.5 328.3l3.5 3.5-3.5 3.5-3.5-3.5zM361 329.4l3.5 3.5-3.5 3.5-3.5-3.5zM361.5 328.8l3.5 3.5-3.5 3.5-3.5-3.5zM362 328l3.5 3.5-3.5 3.5-3.5-3.5zM362.5 330.5l3.5 3.5-3.5 3.5-3.5-3.5zM363 329.8l3.5 3.5-3.5 3.5-3.5-3.5zM363.5 330.5l3.5 3.5-3.5 3.5-3.5-3.5zM364 329.1l3.5 3.5-3.5 3.5-3.5-3.5zM364.5 330.5l3.5 3.5-3.5 3.5-3.5-3.5zM365 330.6l3.5 3.5-3.5 3.5-3.5-3.5zM365.5 330.7l3.5 3.5-3.5 3.5-3.5-3.5zM366 329.9l3.5 3.5-3.5 3.5-3.5-3.5zM366.5 329.4l3.5 3.5-3.5 3.5-3.5-3.5zM367 330l3.5 3.5-3.5 3.5-3.5-3.5zM367.5 329l3.5 3.5-3.5 3.5-3.5-3.5zM368 329.3l3.5 3.5-3.5 3.5-3.5-3.5zM368.5 330.4l3.5 3.5-3.5 3.5-3.5-3.5zM369 329.9l3.5 3.5-3.5 3.5-3.5-3.5zM369.5 330.4l3.5 3.5-3.5 3.5-3.5-3.5zM370 330.5l3.5 3.5-3.5 3.5-3.5-3.5zM370.5 331.7l3.5 3.5-3.5 3.5-3.5-3.5zM371 331.4l3.5 3.5-3.5 3.5-3.5-3.5zM371.5 330.7l3.5 3.5-3.5 3.5-3.5-3.5zM372 331.5l3.5 3.5-3.5 3.5-3.5-3.5zM372.5 330.5l3.5 3.5-3.5 3.5-3.5-3.5zM373 330.8l3.5 3.5-3.5 3.5-3.5-3.5zM373.5 331.5l3.5 3.5-3.5 3.5-3.5-3.5zM374 330.5l3.5 3.5-3.5 3.5-3.5-3.5zM374.5 331l3.5 3.5-3.5 3.5-3.5-3.5zM375 330.6l3.5 3.5-3.5 3.5-3.5-3.5zM375.5 331.4l3.5 3.5-3.5 3.5-3.5-3.5zM376 332.2l3.5 3.5-3.5 3.5-3.5-3.5zM376.5 331l3.5 3.5-3.5 3.5-3.5-3.5zM377 331.6l3.5 3.5-3.5 3.5-3.5-3.5zM377.5 331.1l3.5 3.5-3.5 3.5-3.5-3.5zM378 331l3.5 3.5-3.5 3.5-3.5-3.5zM378.5 331l3.5 3.5-3.5 3.5-3.5-3.5zM379 332.5l3.5 3.5-3.5 3.5-3.5-3.5zM379.5 333l3.5 3.5-3.5 3.5-3.5-3.5zM380 332.1l3.5 3.5-3.5 3.5-3.5-3.5zM380.5 331.5l3.5 3.5-3.5 3.5-3.5-3.5zM381 332.3l3.5 3.5-3.5 3.5-3.5-3.5zM381.5 331.9l3.5 3.5-3.5 3.5-3.5-3.5zM382 332.5l3.5 3.5-3.5 3.5-3.5-3.5zM382.5 332.3l3.5 3.5-3.5 3.5-3.5-3.5zM383 332.3l3.5 3.5-3.5 3.5-3.5-3.5zM383.5 332.6l3.5 3.5-3.5 3.5-3.5-3.5zM384 332l3.5 3.5-3.5 3.5-3.5-3.5zM384.5 332.1l3.5 3.5-3.5 3.5-3.5-3.5zM385 331.5l3.5 3.5-3.5 3.5-3.5-3.5zM385.5 332.2l3.5 3.5-3.5 3.5-3.5-3.5zM386 331.8l3.5 3.5-3.5 3.5-3.5-3.5zM386.5 332.5l3.5 3.5-3.5 3.5-3.5-3.5zM387 332.1l3.5 3.5-3.5 3.5-3.5-3.5zM387.5 332.7l3.5 3.5-3.5 3.5-3.5-3.5zM388 332.9l3.5 3.5-3.5 3.5-3.5-3.5zM388.5 332l3.5 3.5-3.5 3.5-3.5-3.5zM389 332.4l3.5 3.5-3.5 3.5-3.5-3.5zM389.5 332.3l3.5 3.5-3.5 3.5-3.5-3.5zM390 333.3l3.5 3.5-3.5 3.5-3.5-3.5zM390.5 333.8l3.5 3.5-3.5 3.5-3.5-3.5zM391 333.4l3.5 3.5-3.5 3.5-3.5-3.5zM391.5 332.8l3.5 3.5-3.5 3.5-3.5-3.5zM392 333.8l3.5 3.5-3.5 3.5-3.5-3.5zM392.5 332.3l3.5 3.5-3.5 3.5-3.5-3.5zM393 333.9l3.5 3.5-3.5 3.5-3.5-3.5zM393.5 332.8l3.5 3.5-3.5 3.5-3.5-3.5zM394 332.1l3.5 3.5-3.5 3.5-3.5-3.5zM394.5 334.4l3.5 3.5-3.5 3.5-3.5-3.5zM395 334.1l3.5 3.5-3.5 3.5-3.5-3.5zM395.5 332.8l3.5 3.5-3.5 3.5-3.5-3.5zM396 333.5l3.5 3.5-3.5 3.5-3.5-3.5zM396.5 333.3l3.5 3.5-3.5 3.5-3.5-3.5zM397 333.5l3.5 3.5-3.5 3.5-3.5-3.5zM397.5 332.7l3.5 3.5-3.5 3.5-3.5-3.5zM398 333.2l3.5 3.5-3.5 3.5-3.5-3.5zM398.5 333.8l3.5 3.5-3.5 3.5-3.5-3.5zM399 333.7l3.5 3.5-3.5 3.5-3.5-3.5zM399.5 334.2l3.5 3.5-3.5 3.5-3.5-3.5zM400 333.7l3.5 3.5-3.5 3.5-3.5-3.5zM400.5 334.8l3.5 3.5-3.5 3.5-3.5-3.5zM401 333.4l3.5 3.5-3.5 3.5-3.5-3.5zM401.5 333.9l3.5 3.5-3.5 3.5-3.5-3.5zM402 332.8l3.5 3.5-3.5 3.5-3.5-3.5zM402.5 333.2l3.5 3.5-3.5 3.5-3.5-3.5zM403 334.5l3.5 3.5-3.5 3.5-3.5-3.5zM403.5 333.4l3.5 3.5-3.5 3.5-3.5-3.5zM404 334.2l3.5 3.5-3.5 3.5-3.5-3.5zM404.5 333.9l3.5 3.5-3.5 3.5-3.5-3.5zM405 333.5l3.5 3.5-3.5 3.5-3.5-3.5zM405.5 333.9l3.5 3.5-3.5 3.5-3.5-3.5zM406 333.8l3.5 3.5-3.5 3.5-3.5-3.5zM406.5 333.9l3.5 3.5-3.5 3.5-3.5-3.5zM407 334.5l3.5 3.5-3.5 3.5-3.5-3.5zM407.5 334.5l3.5 3.5-3.5 3.5-3.5-3.5zM408 333.9l3.5 3.5-3.5 3.5-3.5-3.5zM408.5 333.8l3.5 3.5-3.5 3.5-3.5-3.5zM409 334.4l3.5 3.5-3.5 3.5-3.5-3.5zM409.5 334.2l3.5 3.5-3.5 3.5-3.5-3.5zM410 334.8l3.5 3.5-3.5 3.5-3.5-3.5zM410.5 335.4l3.5 3.5-3.5 3.5-3.5-3.5zM411 334.8l3.5 3.5-3.5 3.5-3.5-3.5zM411.5 334.4l3.5 3.5-3.5 3.5-3.5-3.5zM412 334.3l3.5 3.5-3.5 3.5-3.5-3.5zM412.5 334l3.5 3.5-3.5 3.5-3.5-3.5zM413 334l3.5 3.5-3.5 3.5-3.5-3.5zM413.5 334l3.5 3.5-3.5 3.5-3.5-3.5zM414 334.3l3.5 3.5-3.5 3.5-3.5-3.5zM414.5 334.3l3.5 3.5-3.5 3.5-3.5-3.5zM415 334.9l3.5 3.5-3.5 3.5-3.5-3.5zM415.5 334.4l3.5 3.5-3.5 3.5-3.5-3.5zM416 334.5l3.5 3.5-3.5 3.5-3.5-3.5zM416.5 334l3.5 3.5-3.5 3.5-3.5-3.5zM417 335.5l3.5 3.5-3.5 3.5-3.5-3.5zM417.5 334.9l3.5 3.5-3.5 3.5-3.5-3.5zM418 335.6l3.5 3.5-3.5 3.5-3.5-3.5zM418.5 335.1l3.5 3.5-3.5 3.5-3.5-3.5zM419 335.5l3.5 3.5-3.5 3.5-3.5-3.5zM419.5 334.7l3.5 3.5-3.5 3.5-3.5-3.5zM420 335.2l3.5 3.5-3.5 3.5-3.5-3.5zM420.5 335.9l3.5 3.5-3.5 3.5-3.5-3.5zM421 334.2l3.5 3.5-3.5 3.5-3.5-3.5zM421.5 335.5l3.5 3.5-3.5 3.5-3.5-3.5zM422 335.7l3.5 3.5-3.5 3.5-3.5-3.5zM422.5 335.1l3.5 3.5-3.5 3.5-3.5-3.5zM423 335.3l3.5 3.5-3.5 3.5-3.5-3.5zM423.5 335.6l3.5 3.5-3.5 3.5-3.5-3.5zM424 334.7l3.5 3.5-3.5 3.5-3.5-3.5zM424.5 335.2l3.5 3.5-3.5 3.5-3.5-3.5zM425 334.6l3.5 3.5-3.5 3.5-3.5-3.5zM425.5 334.7l3.5 3.5-3.5 3.5-3.5-3.5zM426 334.8l3.5 3.5-3.5 3.5-3.5-3.5zM426.5 335l3.5 3.5-3.5 3.5-3.5-3.5zM427 335.2l3.5 3.5-3.5 3.5-3.5-3.5zM427.5 335.4l3.5 3.5-3.5 3.5-3.5-3.5zM428 334.4l3.5 3.5-3.5 3.5-3.5-3.5zM428.5 336.2l3.5 3.5-3.5 3.5-3.5-3.5zM429 335.8l3.5 3.5-3.5 3.5-3.5-3.5zM429.5 335.6l3.5 3.5-3.5 3.5-3.5-3.5zM430 335l3.5 3.5-3.5 3.5-3.5-3.5zM430.5 335.2l3.5 3.5-3.5 3.5-3.5-3.5zM431 335.5l3.5 3.5-3.5 3.5-3.5-3.5zM431.5 335.5l3.5 3.5-3.5 3.5-3.5-3.5zM432 334.4l3.5 3.5-3.5 3.5-3.5-3.5zM432.5 335.7l3.5 3.5-3.5 3.5-3.5-3.5zM433 336.4l3.5 3.5-3.5 3.5-3.5-3.5zM433.5 334.4l3.5 3.5-3.5 3.5-3.5-3.5zM434 335.9l3.5 3.5-3.5 3.5-3.5-3.5zM434.5 335.6l3.5 3.5-3.5 3.5-3.5-3.5zM435 335.3l3.5 3.5-3.5 3.5-3.5-3.5zM435.5 336.1l3.5 3.5-3.5 3.5-3.5-3.5zM436 334.8l3.5 3.5-3.5 3.5-3.5-3.5zM436.5 335.5l3.5 3.5-3.5 3.5-3.5-3.5zM437 336.2l3.5 3.5-3.5 3.5-3.5-3.5zM437.5 335.4l3.5 3.5-3.5 3.5-3.5-3.5zM438 335.3l3.5 3.5-3.5 3.5-3.5-3.5zM438.5 335.6l3.5 3.5-3.5 3.5-3.5-3.5zM439 335.3l3.5 3.5-3.5 3.5-3.5-3.5zM439.5 336.3l3.5 3.5-3.5 3.5-3.5-3.5zM440 335.1l3.5 3.5-3.5 3.5-3.5-3.5zM440.5 336l3.5 3.5-3.5 3.5-3.5-3.5zM441 335l3.5 3.5-3.5 3.5-3.5-3.5z"/>
<path fill="#C0504D" stroke="#C0504D" stroke-width="0.8" stroke-linejoin="round" d="M51.2 333.5h5.5v5.5h-5.5zM51.8 333.8h5.5v5.5h-5.5zM52.2 333.2h5.5v5.5h-5.5zM52.8 332.5h5.5v5.5h-5.5zM53.2 332.9h5.5v5.5h-5.5zM53.8 332.3h5.5v5.5h-5.5zM54.2 333.4h5.5v5.5h-5.5zM54.8 334.7h5.5v5.5h-5.5zM55.2 332.8h5.5v5.5h-5.5zM55.8 332.6h5.5v5.5h-5.5zM56.2 333.7h5.5v5.5h-5.5zM56.8 333.5h5.5v5.5h-5.5zM57.2 333.2h5.5v5.5h-5.5zM57.8 332.1h5.5v5.5h-5.5zM58.2 333h5.5v5.5h-5.5zM58.8 333.7h5.5v5.5h-5.5zM59.2 331.6h5.5v5.5h-5.5zM59.8 332.5h5.5v5.5h-5.5zM60.2 330.9h5.5v5.5h-5.5zM60.8 331.5h5.5v5.5h-5.5zM61.2 330.9h5.5v5.5h-5.5zM61.8 332.5h5.5v5.5h-5.5zM62.2 331.4h5.5v5.5h-5.5zM62.8 333h5.5v5.5h-5.5zM63.2 332.8h5.5v5.5h-5.5zM63.8 332.4h5.5v5.5h-5.5zM64.2 330.3h5.5v5.5h-5.5zM64.8 332h5.5v5.5h-5.5zM65.2 332.4h5.5v5.5h-5.5zM65.8 332.6h5.5v5.5h-5.5zM66.2 330.8h5.5v5.5h-5.5zM66.8 331.9h5.5v5.5h-5.5zM67.2 331.3h5.5v5.5h-5.5zM67.8 331.4h5.5v5.5h-5.5zM68.2 333.4h5.5v5.5h-5.5zM68.8 331.4h5.5v5.5h-5.5zM69.2 332.1h5.5v5.5h-5.5zM69.8 333.1h5.5v5.5h-5.5zM70.2 331.5h5.5v5.5h-5.5zM70.8 331.9h5.5v5.5h-5.5zM71.2 332.1h5.5v5.5h-5.5zM71.8 332h5.5v5.5h-5.5zM72.2 330.6h5.5v5.5h-5.5zM72.8 331.9h5.5v5.5h-5.5zM73.2 333.3h5.5v5.5h-5.5zM73.8 330.1h5.5v5.5h-5.5zM74.2 332.6h5.5v5.5h-5.5zM74.8 331.8h5.5v5.5h-5.5zM75.2 331h5.5v5.5h-5.5zM75.8 333.7h5.5v5.5h-5.5zM76.2 332.4h5.5v5.5h-5.5zM76.8 330.2h5.5v5.5h-5.5zM77.2 331.5h5.5v5.5h-5.5zM77.8 332h5.5v5.5h-5.5zM78.2 331.2h5.5v5.5h-5.5zM78.8 332h5.5v5.5h-5.5zM79.2 331.2h5.5v5.5h-5.5zM79.8 331.9h5.5v5.5h-5.5zM80.2 332.7h5.5v5.5h-5.5zM80.8 330.4h5.5v5.5h-5.5zM81.2 331.3h5.5v5.5h-5.5zM81.8 330.5h5.5v5.5h-5.5zM82.2 331.1h5.5v5.5h-5.5zM82.8 329.7h5.5v5.5h-5.5zM83.2 330.3h5.5v5.5h-5.5zM83.8 330.6h5.5v5.5h-5.5zM84.2 331.7h5.5v5.5h-5.5zM84.8 332h5.5v5.5h-5.5zM85.2 329.3h5.5v5.5h-5.5zM85.8 329.8h5.5v5.5h-5.5zM86.2 331.3h5.5v5.5h-5.5zM86.8 328.4h5.5v5.5h-5.5zM87.2 330h5.5v5.5h-5.5zM87.8 330.3h5.5v5.5h-5.5zM88.2 331.7h5.5v5.5h-5.5zM88.8 331h5.5v5.5h-5.5zM89.2 329.9h5.5v5.5h-5.5zM89.8 329.8h5.5v5.5h-5.5zM90.2 329.9h5.5v5.5h-5.5zM90.8 331.7h5.5v5.5h-5.5zM91.2 329.6h5.5v5.5h-5.5zM91.8 329.6h5.5v5.5h-5.5zM92.2 330.3h5.5v5.5h-5.5zM92.8 329.7h5.5v5.5h-5.5zM93.2 329.6h5.5v5.5h-5.5zM93.8 328.5h5.5v5.5h-5.5zM94.2 329.7h5.5v5.5h-5.5zM94.8 329.1h5.5v5.5h-5.5zM95.2 330.8h5.5v5.5h-5.5zM95.8 330.2h5.5v5.5h-5.5zM96.2 329.4h5.5v5.5h-5.5zM96.8 330.1h5.5v5.5h-5.5zM97.2 328.9h5.5v5.5h-5.5zM97.8 330.4h5.5v5.5h-5.5zM98.2 329.2h5.5v5.5h-5.5zM98.8 329.8h5.5v5.5h-5.5zM99.2 327.6h5.5v5.5h-5.5zM99.8 329.4h5.5v5.5h-5.5zM100.2 327.1h5.5v5.5h-5.5zM100.8 326.6h5.5v5.5h-5.5zM101.2 328.5h5.5v5.5h-5.5zM101.8 327.7h5.5v5.5h-5.5zM102.2 328.8h5.5v5.5h-5.5zM102.8 331h5.5v5.5h-5.5zM103.2 327.6h5.5v5.5h-5.5zM103.8 327.8h5.5v5.5h-5.5zM104.2 328.6h5.5v5.5h-5.5zM104.8 328.9h5.5v5.5h-5.5zM105.2 328.1h5.5v5.5h-5.5zM105.8 328h5.5v5.5h-5.5zM106.2 328.9h5.5v5.5h-5.5zM106.8 328.6h5.5v5.5h-5.5zM107.2 326.8h5.5v5.5h-5.5zM107.8 327.8h5.5v5.5h-5.5zM108.2 327.9h5.5v5.5h-5.5zM108.8 326.6h5.5v5.5h-5.5zM109.2 328h5.5v5.5h-5.5zM109.8 326.6h5.5v5.5h-5.5zM110.2 328.6h5.5v5.5h-5.5zM110.8 327.6h5.5v5.5h-5.5zM111.2 327.5h5.5v5.5h-5.5zM111.8 326.6h5.5v5.5h-5.5zM112.2 327.1h5.5v5.5h-5.5zM112.8 324.9h5.5v5.5h-5.5zM113.2 325.8h5.5v5.5h-5.5zM113.8 327.4h5.5v5.5h-5.5zM114.2 324.5h5.5v5.5h-5.5zM114.8 327.7h5.5v5.5h-5.5zM115.2 324.7h5.5v5.5h-5.5zM115.8 327.5h5.5v5.5h-5.5zM116.2 325.6h5.5v5.5h-5.5zM116.8 327.3h5.5v5.5h-5.5zM117.2 326.5h5.5v5.5h-5.5zM117.8 324.5h5.5v5.5h-5.5zM118.2 327.6h5.5v5.5h-5.5zM118.8 327.7h5.5v5.5h-5.5zM119.2 325.9h5.5v5.5h-5.5zM119.8 325.6h5.5v5.5h-5.5zM120.2 325.6h5.5v5.5h-5.5zM120.8 324.6h5.5v5.5h-5.5zM121.2 326.9h5.5v5.5h-5.5zM121.8 324.9h5.5v5.5h-5.5zM122.2 325.4h5.5v5.5h-5.5zM122.8 324.4h5.5v5.5h-5.5zM123.2 324.5h5.5v5.5h-5.5zM123.8 323.7h5.5v5.5h-5.5zM124.2 326.5h5.5v5.5h-5.5zM124.8 324.8h5.5v5.5h-5.5zM125.2 325.9h5.5v5.5h-5.5zM125.8 324.7h5.5v5.5h-5.5zM126.2 323.8h5.5v5.5h-5.5zM126.8 324.1h5.5v5.5h-5.5zM127.2 323.8h5.5v5.5h-5.5zM127.8 324.3h5.5v5.5h-5.5zM128.2 323.8h5.5v5.5h-5.5zM128.8 323.7h5.5v5.5h-5.5zM129.2 322.4h5.5v5.5h-5.5zM129.8 322.9h5.5v5.5h-5.5zM130.2 325.7h5.5v5.5h-5.5zM130.8 322.9h5.5v5.5h-5.5zM131.2 322.3h5.5v5.5h-5.5zM131.8 323.8h5.5v5.5h-5.5zM132.2 324.9h5.5v5.5h-5.5zM132.8 321.5h5.5v5.5h-5.5zM133.2 322.8h5.5v5.5h-5.5zM133.8 322.2h5.5v5.5h-5.5zM134.2 320.7h5.5v5.5h-5.5zM134.8 323.5h5.5v5.5h-5.5zM135.2 322.5h5.5v5.5h-5.5zM135.8 322.5h5.5v5.5h-5.5zM136.2 321.4h5.5v5.5h-5.5zM136.8 322.7h5.5v5.5h-5.5zM137.2 321.4h5.5v5.5h-5.5zM137.8 321.7h5.5v5.5h-5.5zM138.2 320.4h5.5v5.5h-5.5zM138.8 320.2h5.5v5.5h-5.5zM139.2 323.1h5.5v5.5h-5.5zM139.8 320.7h5.5v5.5h-5.5zM140.2 321.6h5.5v5.5h-5.5zM140.8 321h5.5v5.5h-5.5zM141.2 320.4h5.5v5.5h-5.5zM141.8 320.2h5.5v5.5h-5.5zM142.2 321.4h5.5v5.5h-5.5zM142.8 320.1h5.5v5.5h-5.5zM143.2 320.1h5.5v5.5h-5.5zM143.8 320.2h5.5v5.5h-5.5zM144.2 321.5h5.5v5.5h-5.5zM144.8 320.7h5.5v5.5h-5.5zM145.2 320.2h5.5v5.5h-5.5zM145.8 318.9h5.5v5.5h-5.5zM146.2 317.7h5.5v5.5h-5.5zM146.8 320.4h5.5v5.5h-5.5zM147.2 320.2h5.5v5.5h-5.5zM147.8 318.7h5.5v5.5h-5.5zM148.2 319.4h5.5v5.5h-5.5zM148.8 319.5h5.5v5.5h-5.5zM149.2 319.4h5.5v5.5h-5.5zM149.8 319.3h5.5v5.5h-5.5zM150.2 317.5h5.5v5.5h-5.5zM150.8 319.7h5.5v5.5h-5.5zM151.2 316.1h5.5v5.5h-5.5zM151.8 318.6h5.5v5.5h-5.5zM152.2 317.9h5.5v5.5h-5.5zM152.8 318.2h5.5v5.5h-5.5zM153.2 319.3h5.5v5.5h-5.5zM153.8 318.6h5.5v5.5h-5.5zM154.2 315.1h5.5v5.5h-5.5zM154.8 314.2h5.5v5.5h-5.5zM155.2 317.2h5.5v5.5h-5.5zM155.8 314.7h5.5v5.5h-5.5zM156.2 315.7h5.5v5.5h-5.5zM156.8 316.6h5.5v5.5h-5.5zM157.2 313.2h5.5v5.5h-5.5zM157.8 312.4h5.5v5.5h-5.5zM158.2 315.2h5.5v5.5h-5.5zM158.8 314.7h5.5v5.5h-5.5zM159.2 314.1h5.5v5.5h-5.5zM159.8 314.3h5.5v5.5h-5.5zM160.2 312.9h5.5v5.5h-5.5zM160.8 311.8h5.5v5.5h-5.5zM161.2 313.3h5.5v5.5h-5.5zM161.8 312h5.5v5.5h-5.5zM162.2 310.9h5.5v5.5h-5.5zM162.8 313.5h5.5v5.5h-5.5zM163.2 312.5h5.5v5.5h-5.5zM163.8 312.8h5.5v5.5h-5.5zM164.2 310.8h5.5v5.5h-5.5zM164.8 311h5.5v5.5h-5.5zM165.2 310.2h5.5v5.5h-5.5zM165.8 310.1h5.5v5.5h-5.5zM166.2 311.3h5.5v5.5h-5.5zM166.8 309.7h5.5v5.5h-5.5zM167.2 311h5.5v5.5h-5.5zM167.8 310.7h5.5v5.5h-5.5zM168.2 312.6h5.5v5.5h-5.5zM168.8 307.8h5.5v5.5h-5.5zM169.2 310.5h5.5v5.5h-5.5zM169.8 308.9h5.5v5.5h-5.5zM170.2 308.8h5.5v5.5h-5.5zM170.8 306.5h5.5v5.5h-5.5zM171.2 307.5h5.5v5.5h-5.5zM171.8 308.9h5.5v5.5h-5.5zM172.2 307.4h5.5v5.5h-5.5zM172.8 307.3h5.5v5.5h-5.5zM173.2 306.5h5.5v5.5h-5.5zM173.8 308.1h5.5v5.5h-5.5zM174.2 306.2h5.5v5.5h-5.5zM174.8 302.9h5.5v5.5h-5.5zM175.2 304.6h5.5v5.5h-5.5zM175.8 302.5h5.5v5.5h-5.5zM176.2 301.9h5.5v5.5h-5.5zM176.8 303.8h5.5v5.5h-5.5zM177.2 306h5.5v5.5h-5.5zM177.8 303.9h5.5v5.5h-5.5zM178.2 301.8h5.5v5.5h-5.5zM178.8 301.8h5.5v5.5h-5.5zM179.2 304.3h5.5v5.5h-5.5zM179.8 302.5h5.5v5.5h-5.5zM180.2 302h5.5v5.5h-5.5zM180.8 301.5h5.5v5.5h-5.5zM181.2 301.2h5.5v5.5h-5.5zM181.8 301.9h5.5v5.5h-5.5zM182.2 301.1h5.5v5.5h-5.5zM182.8 300.2h5.5v5.5h-5.5zM183.2 298h5.5v5.5h-5.5zM183.8 299.8h5.5v5.5h-5.5zM184.2 297.6h5.5v5.5h-5.5zM184.8 299.8h5.5v5.5h-5.5zM185.2 295.9h5.5v5.5h-5.5zM185.8 297.1h5.5v5.5h-5.5zM186.2 296.8h5.5v5.5h-5.5zM186.8 294.5h5.5v5.5h-5.5zM187.2 298.4h5.5v5.5h-5.5zM187.8 297.5h5.5v5.5h-5.5zM188.2 294.3h5.5v5.5h-5.5zM188.8 295.6h5.5v5.5h-5.5zM189.2 294.5h5.5v5.5h-5.5zM189.8 290.2h5.5v5.5h-5.5zM190.2 293.3h5.5v5.5h-5.5zM190.8 292.3h5.5v5.5h-5.5zM191.2 292h5.5v5.5h-5.5zM191.8 289.8h5.5v5.5h-5.5zM192.2 290.5h5.5v5.5h-5.5zM192.8 290h5.5v5.5h-5.5zM193.2 291.5h5.5v5.5h-5.5zM193.8 289.7h5.5v5.5h-5.5zM194.2 288.6h5.5v5.5h-5.5zM194.8 290.4h5.5v5.5h-5.5zM195.2 286.7h5.5v5.5h-5.5zM195.8 286.3h5.5v5.5h-5.5zM196.2 283.6h5.5v5.5h-5.5zM196.8 288.1h5.5v5.5h-5.5zM197.2 286.6h5.5v5.5h-5.5zM197.8 285.9h5.5v5.5h-5.5zM198.2 284.9h5.5v5.5h-5.5zM198.8 283.5h5.5v5.5h-5.5zM199.2 283h5.5v5.5h-5.5zM199.8 281.6h5.5v5.5h-5.5zM200.2 281h5.5v5.5h-5.5zM200.8 280.8h5.5v5.5h-5.5zM201.2 282.4h5.5v5.5h-5.5zM201.8 280.3h5.5v5.5h-5.5zM202.2 278.6h5.5v5.5h-5.5zM202.8 277.1h5.5v5.5h-5.5zM203.2 276.3h5.5v5.5h-5.5zM203.8 279.2h5.5v5.5h-5.5zM204.2 276.7h5.5v5.5h-5.5zM204.8 275.3h5.5v5.5h-5.5zM205.2 273.9h5.5v5.5h-5.5zM205.8 272h5.5v5.5h-5.5zM206.2 272.9h5.5v5.5h-5.5zM206.8 273.7h5.5v5.5h-5.5zM207.2 270.9h5.5v5.5h-5.5zM207.8 270.4h5.5v5.5h-5.5zM208.2 269.6h5.5v5.5h-5.5zM208.8 269.4h5.5v5.5h-5.5zM209.2 265.8h5.5v5.5h-5.5zM209.8 267.2h5.5v5.5h-5.5zM210.2 265.4h5.5v5.5h-5.5zM210.8 267.5h5.5v5.5h-5.5zM211.2 263.9h5.5v5.5h-5.5zM211.8 265.3h5.5v5.5h-5.5zM212.2 266.1h5.5v5.5h-5.5zM212.8 262.2h5.5v5.5h-5.5zM213.2 260.8h5.5v5.5h-5.5zM213.8 261.3h5.5v5.5h-5.5zM214.2 260.1h5.5v5.5h-5.5zM214.8 257.5h5.5v5.5h-5.5zM215.2 259.1h5.5v5.5h-5.5zM215.8 260.9h5.5v5.5h-5.5zM216.2 256h5.5v5.5h-5.5zM216.8 255.2h5.5v5.5h-5.5zM217.2 252.7h5.5v5.5h-5.5zM217.8 254.1h5.5v5.5h-5.5zM218.2 250.4h5.5v5.5h-5.5zM218.8 249.7h5.5v5.5h-5.5zM219.2 252.9h5.5v5.5h-5.5zM219.8 248h5.5v5.5h-5.5zM220.2 250.4h5.5v5.5h-5.5zM220.8 250.2h5.5v5.5h-5.5zM221.2 246.8h5.5v5.5h-5.5zM221.8 246.2h5.5v5.5h-5.5zM222.2 247.6h5.5v5.5h-5.5zM222.8 242.6h5.5v5.5h-5.5zM223.2 240.7h5.5v5.5h-5.5zM223.8 238h5.5v5.5h-5.5zM224.2 239.3h5.5v5.5h-5.5zM224.8 240.7h5.5v5.5h-5.5zM225.2 238.4h5.5v5.5h-5.5zM225.8 233.5h5.5v5.5h-5.5zM226.2 232.3h5.5v5.5h-5.5zM226.8 231.5h5.5v5.5h-5.5zM227.2 231.5h5.5v5.5h-5.5zM227.8 229h5.5v5.5h-5.5zM228.2 228.1h5.5v5.5h-5.5zM228.8 226.6h5.5v5.5h-5.5zM229.2 223.7h5.5v5.5h-5.5zM229.8 222.4h5.5v5.5h-5.5zM230.2 220.9h5.5v5.5h-5.5zM230.8 218.3h5.5v5.5h-5.5zM231.2 217.4h5.5v5.5h-5.5zM231.8 217.9h5.5v5.5h-5.5zM232.2 213h5.5v5.5h-5.5zM232.8 209.5h5.5v5.5h-5.5zM233.2 203.4h5.5v5.5h-5.5zM233.8 204.8h5.5v5.5h-5.5zM234.2 197.1h5.5v5.5h-5.5zM234.8 195.1h5.5v5.5h-5.5zM235.2 196.4h5.5v5.5h-5.5zM235.8 192.6h5.5v5.5h-5.5zM236.2 187h5.5v5.5h-5.5zM236.8 179.7h5.5v5.5h-5.5zM237.2 178.2h5.5v5.5h-5.5zM237.8 172.9h5.5v5.5h-5.5zM238.2 170.9h5.5v5.5h-5.5zM238.8 169.1h5.5v5.5h-5.5zM239.2 159h5.5v5.5h-5.5zM239.8 150.7h5.5v5.5h-5.5zM240.2 143.3h5.5v5.5h-5.5zM240.8 139h5.5v5.5h-5.5zM241.2 131.3h5.5v5.5h-5.5zM241.8 121.2h5.5v5.5h-5.5zM242.2 116.1h5.5v5.5h-5.5zM242.8 104.4h5.5v5.5h-5.5zM243.2 101.2h5.5v5.5h-5.5zM243.8 92h5.5v5.5h-5.5zM244.2 82.9h5.5v5.5h-5.5zM244.8 69.7h5.5v5.5h-5.5zM245.2 63.3h5.5v5.5h-5.5zM245.8 53.1h5.5v5.5h-5.5zM246.2 44.6h5.5v5.5h-5.5zM246.8 37.8h5.5v5.5h-5.5zM247.2 29.5h5.5v5.5h-5.5zM247.8 25.4h5.5v5.5h-5.5zM248.2 28.4h5.5v5.5h-5.5zM248.8 25.4h5.5v5.5h-5.5zM249.2 27.1h5.5v5.5h-5.5zM249.8 32.4h5.5v5.5h-5.5zM250.2 30.1h5.5v5.5h-5.5zM250.8 39.4h5.5v5.5h-5.5zM251.2 50.1h5.5v5.5h-5.5zM251.8 59.7h5.5v5.5h-5.5zM252.2 67.3h5.5v5.5h-5.5zM252.8 81h5.5v5.5h-5.5zM253.2 88.9h5.5v5.5h-5.5zM253.8 95.3h5.5v5.5h-5.5zM254.2 105.8h5.5v5.5h-5.5zM254.8 119.3h5.5v5.5h-5.5zM255.2 127.3h5.5v5.5h-5.5zM255.8 130h5.5v5.5h-5.5zM256.2 145.4h5.5v5.5h-5.5zM256.8 151h5.5v5.5h-5.5zM257.2 159.5h5.5v5.5h-5.5zM257.8 161.9h5.5v5.5h-5.5zM258.2 168.1h5.5v5.5h-5.5zM258.8 171.8h5.5v5.5h-5.5zM259.2 184h5.5v5.5h-5.5zM259.8 183.7h5.5v5.5h-5.5zM260.2 191.9h5.5v5.5h-5.5zM260.8 191.3h5.5v5.5h-5.5zM261.2 196.9h5.5v5.5h-5.5zM261.8 196.8h5.5v5.5h-5.5zM262.2 202.8h5.5v5.5h-5.5zM262.8 208.8h5.5v5.5h-5.5zM263.2 207.4h5.5v5.5h-5.5zM263.8 214.9h5.5v5.5h-5.5zM264.2 216.2h5.5v5.5h-5.5zM264.8 216.1h5.5v5.5h-5.5zM265.2 219.7h5.5v5.5h-5.5zM265.8 222.1h5.5v5.5h-5.5zM266.2 225.2h5.5v5.5h-5.5zM266.8 226.4h5.5v5.5h-5.5zM267.2 228h5.5v5.5h-5.5zM267.8 231h5.5v5.5h-5.5zM268.2 231.6h5.5v5.5h-5.5zM268.8 233h5.5v5.5h-5.5zM269.2 237.1h5.5v5.5h-5.5zM269.8 240.6h5.5v5.5h-5.5zM270.2 237.8h5.5v5.5h-5.5zM270.8 242.3h5.5v5.5h-5.5zM271.2 242.7h5.5v5.5h-5.5zM271.8 243.7h5.5v5.5h-5.5zM272.2 248.5h5.5v5.5h-5.5zM272.8 247.5h5.5v5.5h-5.5zM273.2 252.5h5.5v5.5h-5.5zM273.8 249.8h5.5v5.5h-5.5zM274.2 253.2h5.5v5.5h-5.5zM274.8 253.5h5.5v5.5h-5.5zM275.2 253.8h5.5v5.5h-5.5zM275.8 257.4h5.5v5.5h-5.5zM276.2 257.4h5.5v5.5h-5.5zM276.8 259.9h5.5v5.5h-5.5zM277.2 259.9h5.5v5.5h-5.5zM277.8 259.2h5.5v5.5h-5.5zM278.2 262h5.5v5.5h-5.5zM278.8 263.4h5.5v5.5h-5.5zM279.2 265.9h5.5v5.5h-5.5zM279.8 263.8h5.5v5.5h-5.5zM280.2 266.3h5.5v5.5h-5.5zM280.8 264.4h5.5v5.5h-5.5zM281.2 269.3h5.5v5.5h-5.5zM281.8 267.4h5.5v5.5h-5.5zM282.2 267.1h5.5v5.5h-5.5zM282.8 270.9h5.5v5.5h-5.5zM283.2 273.6h5.5v5.5h-5.5zM283.8 270.2h5.5v5.5h-5.5zM284.2 271.7h5.5v5.5h-5.5zM284.8 273.1h5.5v5.5h-5.5zM285.2 273.2h5.5v5.5h-5.5zM285.8 276.4h5.5v5.5h-5.5zM286.2 275.2h5.5v5.5h-5.5zM286.8 276.1h5.5v5.5h-5.5zM287.2 278.9h5.5v5.5h-5.5zM287.8 277.4h5.5v5.5h-5.5zM288.2 280h5.5v5.5h-5.5zM288.8 278.4h5.5v5.5h-5.5zM289.2 278.7h5.5v5.5h-5.5zM289.8 278.3h5.5v5.5h-5.5zM290.2 284.7h5.5v5.5h-5.5zM290.8 281.9h5.5v5.5h-5.5zM291.2 283.4h5.5v5.5h-5.5zM291.8 283.5h5.5v5.5h-5.5zM292.2 284.4h5.5v5.5h-5.5zM292.8 284.7h5.5v5.5h-5.5zM293.2 288.1h5.5v5.5h-5.5zM293.8 284.1h5.5v5.5h-5.5zM294.2 283.8h5.5v5.5h-5.5zM294.8 285.1h5.5v5.5h-5.5zM295.2 285.1h5.5v5.5h-5.5zM295.8 288.8h5.5v5.5h-5.5zM296.2 289.3h5.5v5.5h-5.5zM296.8 287.1h5.5v5.5h-5.5zM297.2 286.9h5.5v5.5h-5.5zM297.8 288.9h5.5v5.5h-5.5zM298.2 291.9h5.5v5.5h-5.5zM298.8 286.9h5.5v5.5h-5.5zM299.2 291.4h5.5v5.5h-5.5zM299.8 289.4h5.5v5.5h-5.5zM300.2 292.9h5.5v5.5h-5.5zM300.8 290.2h5.5v5.5h-5.5zM301.2 291.7h5.5v5.5h-5.5zM301.8 290.3h5.5v5.5h-5.5zM302.2 291.4h5.5v5.5h-5.5zM302.8 295.2h5.5v5.5h-5.5zM303.2 294.7h5.5v5.5h-5.5zM303.8 293.3h5.5v5.5h-5.5zM304.2 292.9h5.5v5.5h-5.5zM304.8 291.7h5.5v5.5h-5.5zM305.2 294.2h5.5v5.5h-5.5zM305.8 295.1h5.5v5.5h-5.5zM306.2 295.3h5.5v5.5h-5.5zM306.8 295.6h5.5v5.5h-5.5zM307.2 294.4h5.5v5.5h-5.5zM307.8 296.2h5.5v5.5h-5.5zM308.2 296.5h5.5v5.5h-5.5zM308.8 298.7h5.5v5.5h-5.5zM309.2 299.8h5.5v5.5h-5.5zM309.8 297.2h5.5v5.5h-5.5zM310.2 296.5h5.5v5.5h-5.5zM310.8 297.8h5.5v5.5h-5.5zM311.2 297.3h5.5v5.5h-5.5zM311.8 297.3h5.5v5.5h-5.5zM312.2 298.5h5.5v5.5h-5.5zM312.8 297.4h5.5v5.5h-5.5zM313.2 300h5.5v5.5h-5.5zM313.8 299.2h5.5v5.5h-5.5zM314.2 299.9h5.5v5.5h-5.5zM314.8 299.5h5.5v5.5h-5.5zM315.2 299h5.5v5.5h-5.5zM315.8 298.9h5.5v5.5h-5.5zM316.2 300.1h5.5v5.5h-5.5zM316.8 299.9h5.5v5.5h-5.5zM317.2 301.2h5.5v5.5h-5.5zM317.8 301.1h5.5v5.5h-5.5zM318.2 299.4h5.5v5.5h-5.5zM318.8 301.6h5.5v5.5h-5.5zM319.2 299.8h5.5v5.5h-5.5zM319.8 301h5.5v5.5h-5.5zM320.2 301.6h5.5v5.5h-5.5zM320.8 299.3h5.5v5.5h-5.5zM321.2 302.6h5.5v5.5h-5.5zM321.8 302.8h5.5v5.5h-5.5zM322.2 302.6h5.5v5.5h-5.5zM322.8 302.4h5.5v5.5h-5.5zM323.2 302.6h5.5v5.5h-5.5zM323.8 302h5.5v5.5h-5.5zM324.2 303.1h5.5v5.5h-5.5zM324.8 302.9h5.5v5.5h-5.5zM325.2 304h5.5v5.5h-5.5zM325.8 302.4h5.5v5.5h-5.5zM326.2 304.5h5.5v5.5h-5.5zM326.8 304.5h5.5v5.5h-5.5zM327.2 304.3h5.5v5.5h-5.5zM327.8 304.1h5.5v5.5h-5.5zM328.2 305.6h5.5v5.5h-5.5zM328.8 302.7h5.5v5.5h-5.5zM329.2 305.8h5.5v5.5h-5.5zM329.8 305.6h5.5v5.5h-5.5zM330.2 305.8h5.5v5.5h-5.5zM330.8 306.1h5.5v5.5h-5.5zM331.2 304.9h5.5v5.5h-5.5zM331.8 305.5h5.5v5.5h-5.5zM332.2 306.9h5.5v5.5h-5.5zM332.8 306.8h5.5v5.5h-5.5zM333.2 306.6h5.5v5.5h-5.5zM333.8 304.4h5.5v5.5h-5.5zM334.2 307.3h5.5v5.5h-5.5zM334.8 308.3h5.5v5.5h-5.5zM335.2 308.2h5.5v5.5h-5.5zM335.8 307.3h5.5v5.5h-5.5zM336.2 305.1h5.5v5.5h-5.5zM336.8 308.6h5.5v5.5h-5.5zM337.2 307.2h5.5v5.5h-5.5zM337.8 304.6h5.5v5.5h-5.5zM338.2 308.2h5.5v5.5h-5.5zM338.8 305.8h5.5v5.5h-5.5zM339.2 306.2h5.5v5.5h-5.5zM339.8 307.2h5.5v5.5h-5.5zM340.2 309.9h5.5v5.5h-5.5zM340.8 307.8h5.5v5.5h-5.5zM341.2 308.8h5.5v5.5h-5.5zM341.8 310.9h5.5v5.5h-5.5zM342.2 310.8h5.5v5.5h-5.5zM342.8 308.7h5.5v5.5h-5.5zM343.2 308.6h5.5v5.5h-5.5zM343.8 307.4h5.5v5.5h-5.5zM344.2 308.3h5.5v5.5h-5.5zM344.8 309.9h5.5v5.5h-5.5zM345.2 309.9h5.5v5.5h-5.5zM345.8 309.7h5.5v5.5h-5.5zM346.2 311h5.5v5.5h-5.5zM346.8 308.7h5.5v5.5h-5.5zM347.2 309.8h5.5v5.5h-5.5zM347.8 311h5.5v5.5h-5.5zM348.2 310.9h5.5v5.5h-5.5zM348.8 311.6h5.5v5.5h-5.5zM349.2 310.8h5.5v5.5h-5.5zM349.8 310h5.5v5.5h-5.5zM350.2 311h5.5v5.5h-5.5zM350.8 309.3h5.5v5.5h-5.5zM351.2 308.6h5.5v5.5h-5.5zM351.8 311.6h5.5v5.5h-5.5zM352.2 310.9h5.5v5.5h-5.5zM352.8 311.5h5.5v5.5h-5.5zM353.2 309h5.5v5.5h-5.5zM353.8 310.8h5.5v5.5h-5.5zM354.2 310.6h5.5v5.5h-5.5zM354.8 310.4h5.5v5.5h-5.5zM355.2 308.7h5.5v5.5h-5.5zM355.8 311.3h5.5v5.5h-5.5zM356.2 313h5.5v5.5h-5.5zM356.8 312.4h5.5v5.5h-5.5zM357.2 311.2h5.5v5.5h-5.5zM357.8 312.1h5.5v5.5h-5.5zM358.2 313.2h5.5v5.5h-5.5zM358.8 309.4h5.5v5.5h-5.5zM359.2 312.2h5.5v5.5h-5.5zM359.8 313.2h5.5v5.5h-5.5zM360.2 313.5h5.5v5.5h-5.5zM360.8 314.9h5.5v5.5h-5.5zM361.2 314.2h5.5v5.5h-5.5zM361.8 313.3h5.5v5.5h-5.5zM362.2 313.3h5.5v5.5h-5.5zM362.8 314.1h5.5v5.5h-5.5zM363.2 312.4h5.5v5.5h-5.5zM363.8 313.2h5.5v5.5h-5.5zM364.2 314.5h5.5v5.5h-5.5zM364.8 315.9h5.5v5.5h-5.5zM365.2 313.3h5.5v5.5h-5.5zM365.8 313.5h5.5v5.5h-5.5zM366.2 313.9h5.5v5.5h-5.5zM366.8 315.5h5.5v5.5h-5.5zM367.2 313.8h5.5v5.5h-5.5zM367.8 315.8h5.5v5.5h-5.5zM368.2 312.8h5.5v5.5h-5.5zM368.8 313.9h5.5v5.5h-5.5zM369.2 313.9h5.5v5.5h-5.5zM369.8 315.3h5.5v5.5h-5.5zM370.2 315.7h5.5v5.5h-5.5zM370.8 312.5h5.5v5.5h-5.5zM371.2 313.3h5.5v5.5h-5.5zM371.8 315h5.5v5.5h-5.5zM372.2 313.8h5.5v5.5h-5.5zM372.8 312.8h5.5v5.5h-5.5zM373.2 316.2h5.5v5.5h-5.5zM373.8 315.5h5.5v5.5h-5.5zM374.2 315.6h5.5v5.5h-5.5zM374.8 314.5h5.5v5.5h-5.5zM375.2 316.5h5.5v5.5h-5.5zM375.8 314.9h5.5v5.5h-5.5zM376.2 316.7h5.5v5.5h-5.5zM376.8 314.2h5.5v5.5h-5.5zM377.2 314.4h5.5v5.5h-5.5zM377.8 315.8h5.5v5.5h-5.5zM378.2 314.7h5.5v5.5h-5.5zM378.8 316.5h5.5v5.5h-5.5zM379.2 316.1h5.5v5.5h-5.5zM379.8 314.7h5.5v5.5h-5.5zM380.2 316h5.5v5.5h-5.5zM380.8 315.5h5.5v5.5h-5.5zM381.2 317.2h5.5v5.5h-5.5zM381.8 315.3h5.5v5.5h-5.5zM382.2 315.6h5.5v5.5h-5.5zM382.8 317.8h5.5v5.5h-5.5zM383.2 319.1h5.5v5.5h-5.5zM383.8 318.9h5.5v5.5h-5.5zM384.2 316.5h5.5v5.5h-5.5zM384.8 316.8h5.5v5.5h-5.5zM385.2 318.5h5.5v5.5h-5.5zM385.8 316.5h5.5v5.5h-5.5zM386.2 315.5h5.5v5.5h-5.5zM386.8 317h5.5v5.5h-5.5zM387.2 317.4h5.5v5.5h-5.5zM387.8 315.9h5.5v5.5h-5.5zM388.2 314.9h5.5v5.5h-5.5zM388.8 315.3h5.5v5.5h-5.5zM389.2 318h5.5v5.5h-5.5zM389.8 316.2h5.5v5.5h-5.5zM390.2 317.1h5.5v5.5h-5.5zM390.8 317.6h5.5v5.5h-5.5zM391.2 318.1h5.5v5.5h-5.5zM391.8 317h5.5v5.5h-5.5zM392.2 318.1h5.5v5.5h-5.5zM392.8 316.5h5.5v5.5h-5.5zM393.2 317.2h5.5v5.5h-5.5zM393.8 316.4h5.5v5.5h-5.5zM394.2 319.1h5.5v5.5h-5.5zM394.8 317.8h5.5v5.5h-5.5zM395.2 316.9h5.5v5.5h-5.5zM395.8 317.5h5.5v5.5h-5.5zM396.2 317.7h5.5v5.5h-5.5zM396.8 318.9h5.5v5.5h-5.5zM397.2 316.1h5.5v5.5h-5.5zM397.8 316.9h5.5v5.5h-5.5zM398.2 317.7h5.5v5.5h-5.5zM398.8 321h5.5v5.5h-5.5zM399.2 319.5h5.5v5.5h-5.5zM399.8 318.2h5.5v5.5h-5.5zM400.2 319.3h5.5v5.5h-5.5zM400.8 321h5.5v5.5h-5.5zM401.2 318.2h5.5v5.5h-5.5zM401.8 318.1h5.5v5.5h-5.5zM402.2 320.1h5.5v5.5h-5.5zM402.8 319.3h5.5v5.5h-5.5zM403.2 319.5h5.5v5.5h-5.5zM403.8 318.1h5.5v5.5h-5.5zM404.2 321.2h5.5v5.5h-5.5zM404.8 321h5.5v5.5h-5.5zM405.2 319.6h5.5v5.5h-5.5zM405.8 319.8h5.5v5.5h-5.5zM406.2 316.5h5.5v5.5h-5.5zM406.8 319.8h5.5v5.5h-5.5zM407.2 318.9h5.5v5.5h-5.5zM407.8 319.7h5.5v5.5h-5.5zM408.2 320h5.5v5.5h-5.5zM408.8 318.8h5.5v5.5h-5.5zM409.2 317.2h5.5v5.5h-5.5zM409.8 319.8h5.5v5.5h-5.5zM410.2 318.5h5.5v5.5h-5.5zM410.8 319h5.5v5.5h-5.5zM411.2 318.7h5.5v5.5h-5.5zM411.8 319.1h5.5v5.5h-5.5zM412.2 316.9h5.5v5.5h-5.5zM412.8 321.1h5.5v5.5h-5.5zM413.2 319.9h5.5v5.5h-5.5zM413.8 321h5.5v5.5h-5.5zM414.2 322.1h5.5v5.5h-5.5zM414.8 319.8h5.5v5.5h-5.5zM415.2 317.6h5.5v5.5h-5.5zM415.8 318.7h5.5v5.5h-5.5zM416.2 318.4h5.5v5.5h-5.5zM416.8 319.3h5.5v5.5h-5.5zM417.2 320h5.5v5.5h-5.5zM417.8 317.5h5.5v5.5h-5.5zM418.2 320.4h5.5v5.5h-5.5zM418.8 318.2h5.5v5.5h-5.5zM419.2 320.5h5.5v5.5h-5.5zM419.8 320h5.5v5.5h-5.5zM420.2 319.8h5.5v5.5h-5.5zM420.8 320.1h5.5v5.5h-5.5zM421.2 319.6h5.5v5.5h-5.5zM421.8 319.5h5.5v5.5h-5.5zM422.2 318.3h5.5v5.5h-5.5zM422.8 320.3h5.5v5.5h-5.5zM423.2 322.6h5.5v5.5h-5.5zM423.8 322.8h5.5v5.5h-5.5zM424.2 322h5.5v5.5h-5.5zM424.8 321.3h5.5v5.5h-5.5zM425.2 319.7h5.5v5.5h-5.5zM425.8 322.3h5.5v5.5h-5.5zM426.2 320.5h5.5v5.5h-5.5zM426.8 320.5h5.5v5.5h-5.5zM427.2 320.3h5.5v5.5h-5.5zM427.8 320.8h5.5v5.5h-5.5zM428.2 320.2h5.5v5.5h-5.5zM428.8 320.6h5.5v5.5h-5.5zM429.2 319.4h5.5v5.5h-5.5zM429.8 320.3h5.5v5.5h-5.5zM430.2 323.4h5.5v5.5h-5.5zM430.8 320.7h5.5v5.5h-5.5zM431.2 320.6h5.5v5.5h-5.5zM431.8 321.5h5.5v5.5h-5.5zM432.2 321.8h5.5v5.5h-5.5zM432.8 319.6h5.5v5.5h-5.5zM433.2 320.7h5.5v5.5h-5.5zM433.8 322.1h5.5v5.5h-5.5zM434.2 321.3h5.5v5.5h-5.5zM434.8 321.2h5.5v5.5h-5.5zM435.2 322.9h5.5v5.5h-5.5zM435.8 320.3h5.5v5.5h-5.5zM436.2 321.2h5.5v5.5h-5.5zM436.8 320.5h5.5v5.5h-5.5zM437.2 322.9h5.5v5.5h-5.5zM437.8 318.8h5.5v5.5h-5.5zM438.2 320.4h5.5v5.5h-5.5z"/>
<g font-family="Liberation Serif" font-size="27" fill="#000">
<text x="54" y="399.3" text-anchor="middle" font-size="27.6">1.0</text>
<text x="131.4" y="399.3" text-anchor="middle" font-size="27.6">1.2</text>
<text x="208.8" y="399.3" text-anchor="middle" font-size="27.6">1.4</text>
<text x="286.2" y="399.3" text-anchor="middle" font-size="27.6">1.6</text>
<text x="363.6" y="399.3" text-anchor="middle" font-size="27.6">1.8</text>
<text x="441" y="399.3" text-anchor="middle" font-size="27.6">2.0</text>
<text x="264.3" y="87.6" font-size="27.6">5.6 vol %</text>
<text x="201.8" y="340" font-size="27.6">0.0 vol %</text>
</g>
<g font-family="Liberation Serif" font-weight="bold" font-size="27" fill="#000">
<text x="416.5" y="27.9">a</text>
<text x="247.5" y="432.7" text-anchor="middle" letter-spacing="0.5">q (Å<tspan font-size="17" dy="-9">-1</tspan><tspan dy="9">)</tspan></text>
<text transform="translate(24.3 181.1) rotate(-90)" text-anchor="middle" font-size="27.7">I (Counts)</text>
</g>
<path d="M592 6H1005.3" stroke="#000" stroke-width="2"/>
<path d="M601 5V352" stroke="#000" stroke-width="2"/>
<path d="M1004.3 5V352" stroke="#000" stroke-width="2"/>
<path d="M592 344H1004.3" stroke="#000" stroke-width="1.5"/>
<path d="M592 43.6H601M592 81.1H601M592 118.7H601M592 156.2H601M592 193.8H601M592 231.3H601M592 268.9H601M592 306.4H601M681.7 344V352M762.3 344V352M843 344V352M923.6 344V352" stroke="#000" stroke-width="1.8"/>
<path fill="none" stroke="#7030A0" stroke-width="4.2" stroke-linejoin="round" d="M740 314.7 741.4 313.8 742.7 313 744.1 312.1 745.4 311.2 746.8 310.4 748.1 309.5 749.5 308.6 750.8 307.7 752.2 306.9 753.5 306 754.9 305.1 756.3 304.3 757.6 303.4 759 302.6 760.3 301.8 761.7 300.9 763 300.1 764.4 299.3 765.7 298.5 767.1 297.8 768.4 297 769.8 296.3 771.2 295.6 772.5 294.9 773.9 294.2 775.2 293.5 776.6 292.9 777.9 292.3 779.3 291.7 780.6 291.2 782 290.6 783.3 290.1 784.7 289.7 786.1 289.2 787.4 288.8 788.8 288.5 790.1 288.1 791.5 287.8 792.8 287.5 794.2 287.3 795.5 287.1 796.9 286.9 798.2 286.8 799.6 286.7 800.9 286.6 802.3 286.6 803.7 286.6 805 286.7 806.4 286.7 807.7 286.9 809.1 287 810.4 287.2 811.8 287.4 813.1 287.7 814.5 288 815.8 288.3 817.2 288.7 818.6 289.1 819.9 289.5 821.3 289.9 822.6 290.4 824 290.9 825.3 291.5 826.7 292 828 292.6 829.4 293.2 830.7 293.9 832.1 294.6 833.5 295.2 834.8 296 836.2 296.7 837.5 297.4 838.9 298.2 840.2 299 841.6 299.8 842.9 300.6 844.3 301.4 845.6 302.2 847 303.1 M887 327.1 889 328 891 329 893 329.8 895 330.7 896.9 331.5 898.9 332.3 900.9 333.1 902.9 333.8 904.9 334.5 906.9 335.1 908.9 335.7 910.9 336.3 912.8 336.9 914.8 337.4 916.8 337.9 918.8 338.3 920.8 338.8 922.8 339.2 924.8 339.6 926.8 339.9 928.8 340.3 930.7 340.6 932.7 340.9 934.7 341.1 936.7 341.4 938.7 341.6 940.7 341.8 942.7 342 944.7 342.2 946.6 342.4 948.6 342.5 950.6 342.7 952.6 342.8 954.6 342.9 956.6 343 958.6 343.1 960.6 343.2 962.5 343.3 964.5 343.4 966.5 343.4 968.5 343.5 970.5 343.5 972.5 343.6 974.5 343.6 976.5 343.7 978.5 343.7 980.4 343.7 982.4 343.8 984.4 343.8 986.4 343.8 988.4 343.8 990.4 343.9 992.4 343.9 994.4 343.9 996.3 343.9 998.3 343.9 1000.3 343.9 1002.3 343.9 1004.3 343.9"/>
<path fill="none" stroke="#FF0000" stroke-width="4.5" stroke-linejoin="round" stroke-linecap="round" d="M742.5 343.9 743.1 343.9 743.8 343.9 744.4 343.9 745 343.9 745.7 343.8 746.3 343.8 746.9 343.8 747.5 343.7 748.2 343.7 748.8 343.6 749.4 343.5 750.1 343.4 750.7 343.3 751.3 343.2 752 343.1 752.6 342.9 753.2 342.7 753.8 342.5 754.5 342.2 755.1 342 755.7 341.6 756.4 341.3 757 340.9 757.6 340.5 758.3 340 758.9 339.4 759.5 338.8 760.1 338.2 760.8 337.5 761.4 336.7 762 335.9 762.7 335 763.3 334 763.9 333 764.6 331.9 765.2 330.8 765.8 329.6 766.4 328.4 767.1 327.1 767.7 325.7 768.3 324.4 769 323 769.6 321.6 770.2 320.2 770.9 318.8 771.5 317.4 772.1 316 772.8 314.7 773.4 313.4 774 312.1 774.6 311 775.3 309.9 775.9 308.9 776.5 308 777.2 307.2 777.8 306.6 778.4 306 779.1 305.6 779.7 305.3 780.3 305.2 780.9 305.2 781.6 305.4 782.2 305.7 782.8 306.1 783.5 306.6 784.1 307.3 784.7 308.1 785.4 309 786 310 786.6 311.1 787.2 312.2 787.9 313.5 788.5 314.8 789.1 316.1 789.8 317.5 790.4 318.9 791 320.3 791.7 321.7 792.3 323.1 792.9 324.5 793.6 325.9 794.2 327.2 794.8 328.5 795.4 329.7 796.1 330.9 796.7 332 797.3 333.1 798 334.1 798.6 335.1 799.2 336 799.9 336.8 800.5 337.5 801.1 338.2 801.7 338.9 802.4 339.5 803 340 803.6 340.5 804.3 340.9 804.9 341.3 805.5 341.7 806.2 342 806.8 342.3 807.4 342.5 808 342.7 808.7 342.9 809.3 343.1 809.9 343.2 810.6 343.3 811.2 343.4 811.8 343.5 812.5 343.6 813.1 343.7 813.7 343.7 814.3 343.8 815 343.8 815.6 343.9 816.2 343.9 816.9 343.9 817.5 343.9"/>
<path fill="none" stroke="#00B050" stroke-width="4.5" stroke-linejoin="round" stroke-linecap="round" d="M769.7 344 770.1 344 770.6 344 771 344 771.5 344 771.9 344 772.4 344 772.8 344 773.2 344 773.7 344 774.1 344 774.6 344 775 344 775.5 344 775.9 344 776.4 344 776.8 344 777.2 344 777.7 344 778.1 343.9 778.6 343.9 779 343.9 779.5 343.9 779.9 343.8 780.3 343.8 780.8 343.7 781.2 343.7 781.7 343.6 782.1 343.5 782.6 343.4 783 343.2 783.4 343 783.9 342.8 784.3 342.6 784.8 342.3 785.2 341.9 785.7 341.4 786.1 340.9 786.5 340.3 787 339.6 787.4 338.8 787.9 337.8 788.3 336.7 788.8 335.4 789.2 334 789.7 332.3 790.1 330.4 790.5 328.3 791 325.9 791.4 323.2 791.9 320.2 792.3 316.9 792.8 313.2 793.2 309.2 793.6 304.8 794.1 300.1 794.5 294.9 795 289.4 795.4 283.5 795.9 277.2 796.3 270.5 796.7 263.5 797.2 256.1 797.6 248.5 798.1 240.6 798.5 232.5 799 224.2 799.4 215.8 799.9 207.3 800.3 198.8 800.7 190.4 801.2 182.2 801.6 174.2 802.1 166.5 802.5 159.1 803 152.2 803.4 145.8 803.8 140 804.3 134.9 804.7 130.4 805.2 126.7 805.6 123.8 806.1 121.8 806.5 120.6 806.9 120.2 807.4 120.7 807.8 122.1 808.3 124.4 808.7 127.4 809.2 131.3 809.6 135.9 810 141.2 810.5 147.1 810.9 153.6 811.4 160.6 811.8 168 812.3 175.8 812.7 183.9 813.2 192.1 813.6 200.5 814 209 814.5 217.5 814.9 225.9 815.4 234.1 815.8 242.2 816.3 250.1 816.7 257.7 817.1 265 817.6 271.9 818 278.5 818.5 284.7 818.9 290.6 819.4 296 819.8 301.1 820.2 305.8 820.7 310.1 821.1 314 821.6 317.6 822 320.8 822.5 323.8 822.9 326.4 823.4 328.7 823.8 330.8 824.2 332.6 824.7 334.3 825.1 335.7 825.6 336.9 826 338 826.5 339 826.9 339.8 827.3 340.5 827.8 341 828.2 341.5 828.7 342 829.1 342.3 829.6 342.6 830 342.9 830.4 343.1 830.9 343.3 831.3 343.4 831.8 343.5 832.2 343.6 832.7 343.7 833.1 343.8 833.5 343.8 834 343.8 834.4 343.9 834.9 343.9 835.3 343.9 835.8 343.9 836.2 344 836.7 344 837.1 344 837.5 344 838 344 838.4 344 838.9 344 839.3 344 839.8 344 840.2 344"/>
<path fill="none" stroke="#00B0F0" stroke-width="4.5" stroke-linejoin="round" stroke-linecap="round" d="M792.2 344 792.7 344 793.3 344 793.8 343.9 794.4 343.9 794.9 343.9 795.4 343.9 796 343.9 796.5 343.8 797.1 343.8 797.6 343.8 798.2 343.7 798.7 343.7 799.2 343.6 799.8 343.5 800.3 343.4 800.9 343.3 801.4 343.1 801.9 343 802.5 342.8 803 342.6 803.6 342.4 804.1 342.1 804.6 341.8 805.2 341.4 805.7 341 806.3 340.6 806.8 340.1 807.4 339.5 807.9 338.9 808.4 338.3 809 337.6 809.5 336.8 810.1 335.9 810.6 335 811.1 334.1 811.7 333 812.2 332 812.8 330.8 813.3 329.6 813.8 328.4 814.4 327.1 814.9 325.8 815.5 324.4 816 323.1 816.6 321.7 817.1 320.4 817.6 319 818.2 317.7 818.7 316.4 819.3 315.2 819.8 314.1 820.3 313 820.9 312 821.4 311.1 822 310.3 822.5 309.7 823 309.1 823.6 308.7 824.1 308.4 824.7 308.3 825.2 308.3 825.8 308.5 826.3 308.8 826.8 309.2 827.4 309.7 827.9 310.4 828.5 311.2 829 312.1 829.5 313.1 830.1 314.2 830.6 315.4 831.2 316.6 831.7 317.9 832.2 319.2 832.8 320.6 833.3 321.9 833.9 323.3 834.4 324.6 835 326 835.5 327.3 836 328.6 836.6 329.8 837.1 331 837.7 332.1 838.2 333.2 838.7 334.2 839.3 335.2 839.8 336.1 840.4 336.9 840.9 337.7 841.4 338.4 842 339 842.5 339.6 843.1 340.2 843.6 340.7 844.2 341.1 844.7 341.5 845.2 341.8 845.8 342.1 846.3 342.4 846.9 342.6 847.4 342.8 847.9 343 848.5 343.2 849 343.3 849.6 343.4 850.1 343.5 850.6 343.6 851.2 343.7 851.7 343.7 852.3 343.8 852.8 343.8 853.4 343.9 853.9 343.9 854.4 343.9 855 343.9 855.5 343.9 856.1 343.9 856.6 344"/>
<path fill="#4572AB" d="M601 339.5l4 4-4 4-4-4zM601.6 338.5l4 4-4 4-4-4zM602.2 336.1l4 4-4 4-4-4zM602.7 338.6l4 4-4 4-4-4zM603.3 337.3l4 4-4 4-4-4zM603.9 338l4 4-4 4-4-4zM604.5 340.4l4 4-4 4-4-4zM605.1 337.2l4 4-4 4-4-4zM605.6 337.2l4 4-4 4-4-4zM606.2 340.2l4 4-4 4-4-4zM606.8 338.6l4 4-4 4-4-4zM607.4 340.3l4 4-4 4-4-4zM608 338.8l4 4-4 4-4-4zM608.5 337.3l4 4-4 4-4-4zM609.1 338.3l4 4-4 4-4-4zM609.7 339.9l4 4-4 4-4-4zM610.3 339.5l4 4-4 4-4-4zM610.9 338.3l4 4-4 4-4-4zM611.4 338.4l4 4-4 4-4-4zM612 338.1l4 4-4 4-4-4zM612.6 337.6l4 4-4 4-4-4zM613.2 340.6l4 4-4 4-4-4zM613.8 338.2l4 4-4 4-4-4zM614.3 336.8l4 4-4 4-4-4zM614.9 337.6l4 4-4 4-4-4zM615.5 339l4 4-4 4-4-4zM616.1 338.9l4 4-4 4-4-4zM616.7 337.9l4 4-4 4-4-4zM617.2 337.2l4 4-4 4-4-4zM617.8 338.1l4 4-4 4-4-4zM618.4 335.9l4 4-4 4-4-4zM619 336.4l4 4-4 4-4-4zM619.6 339l4 4-4 4-4-4zM620.1 337.3l4 4-4 4-4-4zM620.7 338.4l4 4-4 4-4-4zM621.3 339.4l4 4-4 4-4-4zM621.9 338.7l4 4-4 4-4-4zM622.5 337.9l4 4-4 4-4-4zM623 340.5l4 4-4 4-4-4zM623.6 338.6l4 4-4 4-4-4zM624.2 337.3l4 4-4 4-4-4zM624.8 338.6l4 4-4 4-4-4zM625.4 338.2l4 4-4 4-4-4zM625.9 336.6l4 4-4 4-4-4zM626.5 337.7l4 4-4 4-4-4zM627.1 337.4l4 4-4 4-4-4zM627.7 335.1l4 4-4 4-4-4zM628.3 337.3l4 4-4 4-4-4zM628.8 337.1l4 4-4 4-4-4zM629.4 336.9l4 4-4 4-4-4zM630 335.3l4 4-4 4-4-4zM630.6 337l4 4-4 4-4-4zM631.2 337.3l4 4-4 4-4-4zM631.7 337.5l4 4-4 4-4-4zM632.3 335.8l4 4-4 4-4-4zM632.9 338.1l4 4-4 4-4-4zM633.5 335.7l4 4-4 4-4-4zM634.1 336.9l4 4-4 4-4-4zM634.6 338.9l4 4-4 4-4-4zM635.2 336.2l4 4-4 4-4-4zM635.8 336.4l4 4-4 4-4-4zM636.4 338.5l4 4-4 4-4-4zM637 336.5l4 4-4 4-4-4zM637.5 336.6l4 4-4 4-4-4zM638.1 337.2l4 4-4 4-4-4zM638.7 338.3l4 4-4 4-4-4zM639.3 334l4 4-4 4-4-4zM639.9 335.7l4 4-4 4-4-4zM640.4 335.5l4 4-4 4-4-4zM641 335.3l4 4-4 4-4-4zM641.6 335.6l4 4-4 4-4-4zM642.2 335.6l4 4-4 4-4-4zM642.8 337l4 4-4 4-4-4zM643.3 335.4l4 4-4 4-4-4zM643.9 336.7l4 4-4 4-4-4zM644.5 337.1l4 4-4 4-4-4zM645.1 335.5l4 4-4 4-4-4zM645.7 336.6l4 4-4 4-4-4zM646.2 338.6l4 4-4 4-4-4zM646.8 336.8l4 4-4 4-4-4zM647.4 335.4l4 4-4 4-4-4zM648 336.2l4 4-4 4-4-4zM648.6 335l4 4-4 4-4-4zM649.1 336.5l4 4-4 4-4-4zM649.7 337.3l4 4-4 4-4-4zM650.3 334.9l4 4-4 4-4-4zM650.9 335.7l4 4-4 4-4-4zM651.5 337.5l4 4-4 4-4-4zM652 335.2l4 4-4 4-4-4zM652.6 336.1l4 4-4 4-4-4zM653.2 334.4l4 4-4 4-4-4zM653.8 334.6l4 4-4 4-4-4zM654.4 335l4 4-4 4-4-4zM654.9 338.6l4 4-4 4-4-4zM655.5 335l4 4-4 4-4-4zM656.1 334.8l4 4-4 4-4-4zM656.7 334.7l4 4-4 4-4-4zM657.3 335.2l4 4-4 4-4-4zM657.8 336.3l4 4-4 4-4-4zM658.4 335.6l4 4-4 4-4-4zM659 338.1l4 4-4 4-4-4zM659.6 335.5l4 4-4 4-4-4zM660.2 337.1l4 4-4 4-4-4zM660.7 335.5l4 4-4 4-4-4zM661.3 335.9l4 4-4 4-4-4zM661.9 332.9l4 4-4 4-4-4zM662.5 334.7l4 4-4 4-4-4zM663.1 334.7l4 4-4 4-4-4zM663.6 334.4l4 4-4 4-4-4zM664.2 331.7l4 4-4 4-4-4zM664.8 335.9l4 4-4 4-4-4zM665.4 334l4 4-4 4-4-4zM666 333.9l4 4-4 4-4-4zM666.5 334.1l4 4-4 4-4-4zM667.1 334l4 4-4 4-4-4zM667.7 334.9l4 4-4 4-4-4zM668.3 332.4l4 4-4 4-4-4zM668.9 332.8l4 4-4 4-4-4zM669.4 334.5l4 4-4 4-4-4zM670 334.2l4 4-4 4-4-4zM670.6 333.4l4 4-4 4-4-4zM671.2 333l4 4-4 4-4-4zM671.8 332.5l4 4-4 4-4-4zM672.3 333.6l4 4-4 4-4-4zM672.9 335.3l4 4-4 4-4-4zM673.5 332l4 4-4 4-4-4zM674.1 335.6l4 4-4 4-4-4zM674.7 334.6l4 4-4 4-4-4zM675.2 332.6l4 4-4 4-4-4zM675.8 334.3l4 4-4 4-4-4zM676.4 330.9l4 4-4 4-4-4zM677 330.4l4 4-4 4-4-4zM677.6 331l4 4-4 4-4-4zM678.1 332.2l4 4-4 4-4-4zM678.7 332.2l4 4-4 4-4-4zM679.3 331.8l4 4-4 4-4-4zM679.9 332.7l4 4-4 4-4-4zM680.5 329.2l4 4-4 4-4-4zM681 333.1l4 4-4 4-4-4zM681.6 330.1l4 4-4 4-4-4zM682.2 331.1l4 4-4 4-4-4zM682.8 331.4l4 4-4 4-4-4zM683.4 330.1l4 4-4 4-4-4zM683.9 329.7l4 4-4 4-4-4zM684.5 330.1l4 4-4 4-4-4zM685.1 331.6l4 4-4 4-4-4zM685.7 332.4l4 4-4 4-4-4zM686.3 332.2l4 4-4 4-4-4zM686.8 329.7l4 4-4 4-4-4zM687.4 329.9l4 4-4 4-4-4zM688 329.6l4 4-4 4-4-4zM688.6 331.6l4 4-4 4-4-4zM689.2 327.6l4 4-4 4-4-4zM689.7 332.6l4 4-4 4-4-4zM690.3 329.8l4 4-4 4-4-4zM690.9 329.2l4 4-4 4-4-4zM691.5 330.8l4 4-4 4-4-4zM692.1 331.8l4 4-4 4-4-4zM692.6 330.5l4 4-4 4-4-4zM693.2 331.5l4 4-4 4-4-4zM693.8 329.9l4 4-4 4-4-4zM694.4 331.6l4 4-4 4-4-4zM695 331.5l4 4-4 4-4-4zM695.5 329.1l4 4-4 4-4-4zM696.1 331.5l4 4-4 4-4-4zM696.7 329.3l4 4-4 4-4-4zM697.3 329l4 4-4 4-4-4zM697.9 327.2l4 4-4 4-4-4zM698.4 328.1l4 4-4 4-4-4zM699 329.7l4 4-4 4-4-4zM699.6 326.1l4 4-4 4-4-4zM700.2 329.1l4 4-4 4-4-4zM700.8 328.5l4 4-4 4-4-4zM701.3 328.2l4 4-4 4-4-4zM701.9 323.9l4 4-4 4-4-4zM702.5 327.2l4 4-4 4-4-4zM703.1 328.3l4 4-4 4-4-4zM703.7 325.7l4 4-4 4-4-4zM704.2 327l4 4-4 4-4-4zM704.8 322.9l4 4-4 4-4-4zM705.4 327.6l4 4-4 4-4-4zM706 325.2l4 4-4 4-4-4zM706.6 327.6l4 4-4 4-4-4zM707.1 322.7l4 4-4 4-4-4zM707.7 326.9l4 4-4 4-4-4zM708.3 325.1l4 4-4 4-4-4zM708.9 326.7l4 4-4 4-4-4zM709.5 323.5l4 4-4 4-4-4zM710 323.8l4 4-4 4-4-4zM710.6 328.5l4 4-4 4-4-4zM711.2 323l4 4-4 4-4-4zM711.8 323l4 4-4 4-4-4zM712.4 323.5l4 4-4 4-4-4zM712.9 321.9l4 4-4 4-4-4zM713.5 325.7l4 4-4 4-4-4zM714.1 326.4l4 4-4 4-4-4zM714.7 321.8l4 4-4 4-4-4zM715.3 319.7l4 4-4 4-4-4zM715.8 324.7l4 4-4 4-4-4zM716.4 324.3l4 4-4 4-4-4zM717 323.6l4 4-4 4-4-4zM717.6 323.9l4 4-4 4-4-4zM718.2 319.9l4 4-4 4-4-4zM718.7 320.9l4 4-4 4-4-4zM719.3 318.4l4 4-4 4-4-4zM719.9 318.1l4 4-4 4-4-4zM720.5 322.3l4 4-4 4-4-4zM721.1 318.9l4 4-4 4-4-4zM721.6 324l4 4-4 4-4-4zM722.2 319.7l4 4-4 4-4-4zM722.8 318l4 4-4 4-4-4zM723.4 320.5l4 4-4 4-4-4zM724 322.1l4 4-4 4-4-4zM724.5 319.3l4 4-4 4-4-4zM725.1 315.7l4 4-4 4-4-4zM725.7 318.4l4 4-4 4-4-4zM726.3 320l4 4-4 4-4-4zM726.9 316.1l4 4-4 4-4-4zM727.4 315.2l4 4-4 4-4-4zM728 318.4l4 4-4 4-4-4zM728.6 316.3l4 4-4 4-4-4zM729.2 313.5l4 4-4 4-4-4zM729.8 314.5l4 4-4 4-4-4zM730.3 313.4l4 4-4 4-4-4zM730.9 315.1l4 4-4 4-4-4zM731.5 314.4l4 4-4 4-4-4zM732.1 316.1l4 4-4 4-4-4zM732.7 314.8l4 4-4 4-4-4zM733.2 309.8l4 4-4 4-4-4zM733.8 313.4l4 4-4 4-4-4zM734.4 314l4 4-4 4-4-4zM735 312.7l4 4-4 4-4-4zM735.6 313.5l4 4-4 4-4-4zM736.1 309.8l4 4-4 4-4-4zM736.7 308.5l4 4-4 4-4-4zM737.3 312l4 4-4 4-4-4zM737.9 307.4l4 4-4 4-4-4zM738.5 304.6l4 4-4 4-4-4zM739 310.9l4 4-4 4-4-4zM739.6 306.7l4 4-4 4-4-4zM740.2 307.1l4 4-4 4-4-4zM740.8 304.3l4 4-4 4-4-4zM741.4 303.9l4 4-4 4-4-4zM741.9 303.8l4 4-4 4-4-4zM742.5 305l4 4-4 4-4-4zM743.1 306.1l4 4-4 4-4-4zM743.7 299.9l4 4-4 4-4-4zM744.3 305.9l4 4-4 4-4-4zM744.8 301.1l4 4-4 4-4-4zM745.4 300.8l4 4-4 4-4-4zM746 304.2l4 4-4 4-4-4zM746.6 301.9l4 4-4 4-4-4zM747.2 298.1l4 4-4 4-4-4zM747.7 305.2l4 4-4 4-4-4zM748.3 298.4l4 4-4 4-4-4zM748.9 300.4l4 4-4 4-4-4zM749.5 299.7l4 4-4 4-4-4zM750.1 301.9l4 4-4 4-4-4zM750.6 296.9l4 4-4 4-4-4zM751.2 299.7l4 4-4 4-4-4zM751.8 295l4 4-4 4-4-4zM752.4 298.7l4 4-4 4-4-4zM753 293.6l4 4-4 4-4-4zM753.5 293.9l4 4-4 4-4-4zM754.1 298.6l4 4-4 4-4-4zM754.7 294.2l4 4-4 4-4-4zM755.3 293l4 4-4 4-4-4zM755.9 297.4l4 4-4 4-4-4zM756.4 292.2l4 4-4 4-4-4zM757 288.6l4 4-4 4-4-4zM757.6 291.7l4 4-4 4-4-4zM758.2 286.2l4 4-4 4-4-4zM758.8 291.2l4 4-4 4-4-4zM759.3 290.6l4 4-4 4-4-4zM759.9 285.4l4 4-4 4-4-4zM760.5 284.5l4 4-4 4-4-4zM761.1 285.7l4 4-4 4-4-4zM761.7 284.5l4 4-4 4-4-4zM762.2 281.2l4 4-4 4-4-4zM762.8 284.3l4 4-4 4-4-4zM763.4 276.7l4 4-4 4-4-4zM764 280l4 4-4 4-4-4zM764.6 279.2l4 4-4 4-4-4zM765.1 278.7l4 4-4 4-4-4zM765.7 279.3l4 4-4 4-4-4zM766.3 274.4l4 4-4 4-4-4zM766.9 278.2l4 4-4 4-4-4zM767.5 275.3l4 4-4 4-4-4zM768 273.1l4 4-4 4-4-4zM768.6 270.3l4 4-4 4-4-4zM769.2 269.8l4 4-4 4-4-4zM769.8 272.9l4 4-4 4-4-4zM770.4 268.5l4 4-4 4-4-4zM770.9 270.1l4 4-4 4-4-4zM771.5 271.7l4 4-4 4-4-4zM772.1 270.6l4 4-4 4-4-4zM772.7 270.9l4 4-4 4-4-4zM773.3 265l4 4-4 4-4-4zM773.8 261.9l4 4-4 4-4-4zM774.4 266.2l4 4-4 4-4-4zM775 263.3l4 4-4 4-4-4zM775.6 264.3l4 4-4 4-4-4zM776.2 260.2l4 4-4 4-4-4zM776.7 262.1l4 4-4 4-4-4zM777.3 260l4 4-4 4-4-4zM777.9 258.5l4 4-4 4-4-4zM778.5 256.7l4 4-4 4-4-4zM779.1 255.1l4 4-4 4-4-4zM779.6 253.4l4 4-4 4-4-4zM780.2 252l4 4-4 4-4-4zM780.8 252.7l4 4-4 4-4-4zM781.4 247.4l4 4-4 4-4-4zM782 251.8l4 4-4 4-4-4zM782.5 245.6l4 4-4 4-4-4zM783.1 246.9l4 4-4 4-4-4zM783.7 242.6l4 4-4 4-4-4zM784.3 240.6l4 4-4 4-4-4zM784.9 244.8l4 4-4 4-4-4zM785.4 237l4 4-4 4-4-4zM786 232.8l4 4-4 4-4-4zM786.6 232.4l4 4-4 4-4-4zM787.2 231.5l4 4-4 4-4-4zM787.8 235.9l4 4-4 4-4-4zM788.3 228.8l4 4-4 4-4-4zM788.9 228.4l4 4-4 4-4-4zM789.5 221.1l4 4-4 4-4-4zM790.1 222.2l4 4-4 4-4-4zM790.7 220.4l4 4-4 4-4-4zM791.2 220.6l4 4-4 4-4-4zM791.8 211.2l4 4-4 4-4-4zM792.4 211.4l4 4-4 4-4-4zM793 207.3l4 4-4 4-4-4zM793.6 200.2l4 4-4 4-4-4zM794.1 198.9l4 4-4 4-4-4zM794.7 194.1l4 4-4 4-4-4zM795.3 184.5l4 4-4 4-4-4zM795.9 186.8l4 4-4 4-4-4zM796.5 181.3l4 4-4 4-4-4zM797 172.9l4 4-4 4-4-4zM797.6 164.2l4 4-4 4-4-4zM798.2 164.6l4 4-4 4-4-4zM798.8 153.9l4 4-4 4-4-4zM799.4 147.7l4 4-4 4-4-4zM799.9 139.9l4 4-4 4-4-4zM800.5 125.4l4 4-4 4-4-4zM801.1 118.9l4 4-4 4-4-4zM801.7 105.6l4 4-4 4-4-4zM802.3 95.3l4 4-4 4-4-4zM802.8 84.4l4 4-4 4-4-4zM803.4 74l4 4-4 4-4-4zM804 67l4 4-4 4-4-4zM804.6 55.7l4 4-4 4-4-4zM805.2 47.8l4 4-4 4-4-4zM805.7 42.5l4 4-4 4-4-4zM806.3 41.6l4 4-4 4-4-4zM806.9 40.7l4 4-4 4-4-4zM807.5 42.2l4 4-4 4-4-4zM808.1 48.3l4 4-4 4-4-4zM808.6 54l4 4-4 4-4-4zM809.2 63.7l4 4-4 4-4-4zM809.8 72.1l4 4-4 4-4-4zM810.4 89.2l4 4-4 4-4-4zM811 98.1l4 4-4 4-4-4zM811.5 106.3l4 4-4 4-4-4zM812.1 115.3l4 4-4 4-4-4zM812.7 131l4 4-4 4-4-4zM813.3 135.4l4 4-4 4-4-4zM813.9 143.1l4 4-4 4-4-4zM814.4 152.3l4 4-4 4-4-4zM815 159.8l4 4-4 4-4-4zM815.6 169.7l4 4-4 4-4-4zM816.2 172.4l4 4-4 4-4-4zM816.8 183.9l4 4-4 4-4-4zM817.3 181.7l4 4-4 4-4-4zM817.9 190.9l4 4-4 4-4-4zM818.5 191.3l4 4-4 4-4-4zM819.1 203.1l4 4-4 4-4-4zM819.7 201.7l4 4-4 4-4-4zM820.2 206.3l4 4-4 4-4-4zM820.8 212.5l4 4-4 4-4-4zM821.4 216.9l4 4-4 4-4-4zM822 214l4 4-4 4-4-4zM822.6 219.2l4 4-4 4-4-4zM823.1 219.5l4 4-4 4-4-4zM823.7 226.3l4 4-4 4-4-4zM824.3 228.4l4 4-4 4-4-4zM824.9 230.5l4 4-4 4-4-4zM825.5 232.1l4 4-4 4-4-4zM826 235.4l4 4-4 4-4-4zM826.6 236.8l4 4-4 4-4-4zM827.2 242.4l4 4-4 4-4-4zM827.8 247.2l4 4-4 4-4-4zM828.4 240.4l4 4-4 4-4-4zM828.9 247.3l4 4-4 4-4-4zM829.5 248.5l4 4-4 4-4-4zM830.1 252.9l4 4-4 4-4-4zM830.7 251l4 4-4 4-4-4zM831.3 255l4 4-4 4-4-4zM831.8 254.5l4 4-4 4-4-4zM832.4 260.7l4 4-4 4-4-4zM833 260.9l4 4-4 4-4-4zM833.6 261.9l4 4-4 4-4-4zM834.2 264.9l4 4-4 4-4-4zM834.7 264.8l4 4-4 4-4-4zM835.3 263l4 4-4 4-4-4zM835.9 270l4 4-4 4-4-4zM836.5 270.6l4 4-4 4-4-4zM837.1 270.9l4 4-4 4-4-4zM837.6 275.2l4 4-4 4-4-4zM838.2 277.1l4 4-4 4-4-4zM838.8 272.4l4 4-4 4-4-4zM839.4 274.4l4 4-4 4-4-4zM840 281.7l4 4-4 4-4-4zM840.5 282.5l4 4-4 4-4-4zM841.1 278l4 4-4 4-4-4zM841.7 277.9l4 4-4 4-4-4zM842.3 280.4l4 4-4 4-4-4zM842.9 281.8l4 4-4 4-4-4zM843.4 280l4 4-4 4-4-4zM844 285.1l4 4-4 4-4-4zM844.6 282.7l4 4-4 4-4-4zM845.2 283.8l4 4-4 4-4-4zM845.8 290l4 4-4 4-4-4zM846.3 286.9l4 4-4 4-4-4zM846.9 289.2l4 4-4 4-4-4zM847.5 291.7l4 4-4 4-4-4zM848.1 293l4 4-4 4-4-4zM848.7 290.9l4 4-4 4-4-4zM849.2 292.6l4 4-4 4-4-4zM849.8 291.2l4 4-4 4-4-4zM850.4 298l4 4-4 4-4-4zM851 296.1l4 4-4 4-4-4zM851.6 292.6l4 4-4 4-4-4zM852.1 295.8l4 4-4 4-4-4zM852.7 298.1l4 4-4 4-4-4zM853.3 298.2l4 4-4 4-4-4zM853.9 301.9l4 4-4 4-4-4zM854.5 301.4l4 4-4 4-4-4zM855 297.5l4 4-4 4-4-4zM855.6 299.1l4 4-4 4-4-4zM856.2 296.9l4 4-4 4-4-4zM856.8 300.9l4 4-4 4-4-4zM857.4 301.2l4 4-4 4-4-4zM857.9 306.3l4 4-4 4-4-4zM858.5 302l4 4-4 4-4-4zM859.1 297.6l4 4-4 4-4-4zM859.7 301.2l4 4-4 4-4-4zM860.3 303.4l4 4-4 4-4-4zM860.8 300.8l4 4-4 4-4-4zM861.4 302.1l4 4-4 4-4-4zM862 303.6l4 4-4 4-4-4zM862.6 305.6l4 4-4 4-4-4zM863.2 304.9l4 4-4 4-4-4zM863.7 303.7l4 4-4 4-4-4zM864.3 307.7l4 4-4 4-4-4zM864.9 305.2l4 4-4 4-4-4zM865.5 305.7l4 4-4 4-4-4zM866.1 304.2l4 4-4 4-4-4zM866.6 305.8l4 4-4 4-4-4zM867.2 309.2l4 4-4 4-4-4zM867.8 304.7l4 4-4 4-4-4zM868.4 308.4l4 4-4 4-4-4zM869 310.4l4 4-4 4-4-4zM869.5 308.4l4 4-4 4-4-4zM870.1 310l4 4-4 4-4-4zM870.7 307.5l4 4-4 4-4-4zM871.3 312.9l4 4-4 4-4-4zM871.9 312.7l4 4-4 4-4-4zM872.4 311.2l4 4-4 4-4-4zM873 307.4l4 4-4 4-4-4zM873.6 309.1l4 4-4 4-4-4zM874.2 313.6l4 4-4 4-4-4zM874.8 315.4l4 4-4 4-4-4zM875.3 312.8l4 4-4 4-4-4zM875.9 315l4 4-4 4-4-4zM876.5 311.5l4 4-4 4-4-4zM877.1 312.6l4 4-4 4-4-4zM877.7 313.2l4 4-4 4-4-4zM878.2 314.4l4 4-4 4-4-4zM878.8 310.6l4 4-4 4-4-4zM879.4 315.9l4 4-4 4-4-4zM880 316.9l4 4-4 4-4-4zM880.6 312.2l4 4-4 4-4-4zM881.1 312l4 4-4 4-4-4zM881.7 315.7l4 4-4 4-4-4zM882.3 313.9l4 4-4 4-4-4zM882.9 311.1l4 4-4 4-4-4zM883.5 317.3l4 4-4 4-4-4zM884 316.2l4 4-4 4-4-4zM884.6 315.2l4 4-4 4-4-4zM885.2 320.6l4 4-4 4-4-4zM885.8 316.9l4 4-4 4-4-4zM886.4 315.4l4 4-4 4-4-4zM886.9 317.3l4 4-4 4-4-4zM887.5 315.3l4 4-4 4-4-4zM888.1 316l4 4-4 4-4-4zM888.7 318.5l4 4-4 4-4-4zM889.3 316.9l4 4-4 4-4-4zM889.8 317.3l4 4-4 4-4-4zM890.4 321.6l4 4-4 4-4-4zM891 320.2l4 4-4 4-4-4zM891.6 320.3l4 4-4 4-4-4zM892.2 320l4 4-4 4-4-4zM892.7 320.1l4 4-4 4-4-4zM893.3 322.1l4 4-4 4-4-4zM893.9 319.5l4 4-4 4-4-4zM894.5 323.3l4 4-4 4-4-4zM895.1 318.2l4 4-4 4-4-4zM895.6 319.7l4 4-4 4-4-4zM896.2 317.8l4 4-4 4-4-4zM896.8 319.9l4 4-4 4-4-4zM897.4 321.7l4 4-4 4-4-4zM898 323.6l4 4-4 4-4-4zM898.5 319.9l4 4-4 4-4-4zM899.1 321.3l4 4-4 4-4-4zM899.7 320.8l4 4-4 4-4-4zM900.3 320.3l4 4-4 4-4-4zM900.9 319.6l4 4-4 4-4-4zM901.4 322.1l4 4-4 4-4-4zM902 319l4 4-4 4-4-4zM902.6 322.6l4 4-4 4-4-4zM903.2 322.6l4 4-4 4-4-4zM903.8 321.5l4 4-4 4-4-4zM904.3 321l4 4-4 4-4-4zM904.9 320.5l4 4-4 4-4-4zM905.5 326.6l4 4-4 4-4-4zM906.1 321l4 4-4 4-4-4zM906.7 326.3l4 4-4 4-4-4zM907.2 324.8l4 4-4 4-4-4zM907.8 323.2l4 4-4 4-4-4zM908.4 322l4 4-4 4-4-4zM909 326.1l4 4-4 4-4-4zM909.6 327.4l4 4-4 4-4-4zM910.1 322.9l4 4-4 4-4-4zM910.7 324.2l4 4-4 4-4-4zM911.3 326.7l4 4-4 4-4-4zM911.9 325.6l4 4-4 4-4-4zM912.5 328.6l4 4-4 4-4-4zM913 324.3l4 4-4 4-4-4zM913.6 326.4l4 4-4 4-4-4zM914.2 323.4l4 4-4 4-4-4zM914.8 329.4l4 4-4 4-4-4zM915.4 324.7l4 4-4 4-4-4zM915.9 322.3l4 4-4 4-4-4zM916.5 326l4 4-4 4-4-4zM917.1 326.1l4 4-4 4-4-4zM917.7 329.8l4 4-4 4-4-4zM918.3 326.1l4 4-4 4-4-4zM918.8 326.8l4 4-4 4-4-4zM919.4 327.9l4 4-4 4-4-4zM920 329.8l4 4-4 4-4-4zM920.6 327.1l4 4-4 4-4-4zM921.2 329.1l4 4-4 4-4-4zM921.7 328.4l4 4-4 4-4-4zM922.3 327.1l4 4-4 4-4-4zM922.9 327.9l4 4-4 4-4-4zM923.5 327.9l4 4-4 4-4-4zM924.1 326.5l4 4-4 4-4-4zM924.6 330.2l4 4-4 4-4-4zM925.2 326l4 4-4 4-4-4zM925.8 330.4l4 4-4 4-4-4zM926.4 330.1l4 4-4 4-4-4zM927 328.5l4 4-4 4-4-4zM927.5 327.6l4 4-4 4-4-4zM928.1 328.6l4 4-4 4-4-4zM928.7 329.8l4 4-4 4-4-4zM929.3 330.4l4 4-4 4-4-4zM929.9 329.8l4 4-4 4-4-4zM930.4 331l4 4-4 4-4-4zM931 328.7l4 4-4 4-4-4zM931.6 330.1l4 4-4 4-4-4zM932.2 327.3l4 4-4 4-4-4zM932.8 331.1l4 4-4 4-4-4zM933.3 330.3l4 4-4 4-4-4zM933.9 329.5l4 4-4 4-4-4zM934.5 332.1l4 4-4 4-4-4zM935.1 331.5l4 4-4 4-4-4zM935.7 327l4 4-4 4-4-4zM936.2 330.7l4 4-4 4-4-4zM936.8 328.4l4 4-4 4-4-4zM937.4 332.5l4 4-4 4-4-4zM938 334.4l4 4-4 4-4-4zM938.6 330.2l4 4-4 4-4-4zM939.1 331.3l4 4-4 4-4-4zM939.7 330.9l4 4-4 4-4-4zM940.3 331.9l4 4-4 4-4-4zM940.9 332.5l4 4-4 4-4-4zM941.5 333.6l4 4-4 4-4-4zM942 330.2l4 4-4 4-4-4zM942.6 334.2l4 4-4 4-4-4zM943.2 330.5l4 4-4 4-4-4zM943.8 332.4l4 4-4 4-4-4zM944.4 333.9l4 4-4 4-4-4zM944.9 333.3l4 4-4 4-4-4zM945.5 330.9l4 4-4 4-4-4zM946.1 331.3l4 4-4 4-4-4zM946.7 331.8l4 4-4 4-4-4zM947.3 332.5l4 4-4 4-4-4zM947.8 334.4l4 4-4 4-4-4zM948.4 330.8l4 4-4 4-4-4zM949 333.6l4 4-4 4-4-4zM949.6 333.9l4 4-4 4-4-4zM950.2 333.9l4 4-4 4-4-4zM950.7 333.8l4 4-4 4-4-4zM951.3 335.5l4 4-4 4-4-4zM951.9 334l4 4-4 4-4-4zM952.5 334.7l4 4-4 4-4-4zM953.1 334.3l4 4-4 4-4-4zM953.6 336.2l4 4-4 4-4-4zM954.2 330.9l4 4-4 4-4-4zM954.8 335.6l4 4-4 4-4-4zM955.4 333.5l4 4-4 4-4-4zM956 333.5l4 4-4 4-4-4zM956.5 332.6l4 4-4 4-4-4zM957.1 331.4l4 4-4 4-4-4zM957.7 333.6l4 4-4 4-4-4zM958.3 333.3l4 4-4 4-4-4zM958.9 335l4 4-4 4-4-4zM959.4 332.3l4 4-4 4-4-4zM960 336.5l4 4-4 4-4-4zM960.6 334.9l4 4-4 4-4-4zM961.2 334.3l4 4-4 4-4-4zM961.8 333.7l4 4-4 4-4-4zM962.3 333.7l4 4-4 4-4-4zM962.9 333.3l4 4-4 4-4-4zM963.5 334.2l4 4-4 4-4-4zM964.1 335l4 4-4 4-4-4zM964.7 334.8l4 4-4 4-4-4zM965.2 333.2l4 4-4 4-4-4zM965.8 334.8l4 4-4 4-4-4zM966.4 334l4 4-4 4-4-4zM967 335.6l4 4-4 4-4-4zM967.6 338l4 4-4 4-4-4zM968.1 336.3l4 4-4 4-4-4zM968.7 335.1l4 4-4 4-4-4zM969.3 333.4l4 4-4 4-4-4zM969.9 333.7l4 4-4 4-4-4zM970.5 333.4l4 4-4 4-4-4zM971 336.8l4 4-4 4-4-4zM971.6 334.8l4 4-4 4-4-4zM972.2 336l4 4-4 4-4-4zM972.8 335.1l4 4-4 4-4-4zM973.4 336.1l4 4-4 4-4-4zM973.9 338l4 4-4 4-4-4zM974.5 335.2l4 4-4 4-4-4zM975.1 335.7l4 4-4 4-4-4zM975.7 335.2l4 4-4 4-4-4zM976.3 337.5l4 4-4 4-4-4zM976.8 335l4 4-4 4-4-4zM977.4 334.9l4 4-4 4-4-4zM978 334.7l4 4-4 4-4-4zM978.6 334.7l4 4-4 4-4-4zM979.2 337.2l4 4-4 4-4-4zM979.7 339.5l4 4-4 4-4-4zM980.3 335.4l4 4-4 4-4-4zM980.9 338l4 4-4 4-4-4zM981.5 337.1l4 4-4 4-4-4zM982.1 335.4l4 4-4 4-4-4zM982.6 336.5l4 4-4 4-4-4zM983.2 336.6l4 4-4 4-4-4zM983.8 336.1l4 4-4 4-4-4zM984.4 339.5l4 4-4 4-4-4zM985 334.6l4 4-4 4-4-4zM985.5 337.6l4 4-4 4-4-4zM986.1 337.6l4 4-4 4-4-4zM986.7 336.5l4 4-4 4-4-4zM987.3 337.4l4 4-4 4-4-4zM987.9 338.4l4 4-4 4-4-4zM988.4 337.5l4 4-4 4-4-4zM989 337.9l4 4-4 4-4-4zM989.6 338.3l4 4-4 4-4-4zM990.2 334.9l4 4-4 4-4-4zM990.8 339.4l4 4-4 4-4-4zM991.3 340.3l4 4-4 4-4-4zM991.9 338.8l4 4-4 4-4-4zM992.5 338.9l4 4-4 4-4-4zM993.1 335.9l4 4-4 4-4-4zM993.7 337.6l4 4-4 4-4-4zM994.2 336.7l4 4-4 4-4-4zM994.8 337.1l4 4-4 4-4-4zM995.4 339l4 4-4 4-4-4zM996 336.9l4 4-4 4-4-4zM996.6 337.7l4 4-4 4-4-4zM997.1 335.6l4 4-4 4-4-4zM997.7 337.8l4 4-4 4-4-4zM998.3 338.1l4 4-4 4-4-4zM998.9 337.2l4 4-4 4-4-4zM999.5 337.2l4 4-4 4-4-4zM1000 340.4l4 4-4 4-4-4zM1000.6 336.7l4 4-4 4-4-4zM1001.2 336.9l4 4-4 4-4-4zM1001.8 337.2l4 4-4 4-4-4zM1002.4 339.6l4 4-4 4-4-4zM1002.9 340.7l4 4-4 4-4-4zM1003.5 338.7l4 4-4 4-4-4zM1004.1 337.5l4 4-4 4-4-4z"/>
<path d="M725.6 193.2L796.6 223M785.2 209.1L796.6 223L778.7 224.6" stroke="#000" stroke-width="2.4" fill="none" stroke-linecap="round" stroke-linejoin="miter"/>
<path d="M871.1 211.4L827.6 291.1M842.6 281.2L827.6 291.1L827.8 273.1" stroke="#000" stroke-width="2.2" fill="none" stroke-linecap="round" stroke-linejoin="miter"/>
<path d="M724.1 289.6L765.2 321M757.7 304.6L765.2 321L747.4 318.1" stroke="#000" stroke-width="2.0" fill="none" stroke-linecap="round" stroke-linejoin="miter"/>
<path d="M884.9 295.2L834.1 318.5M852.1 319.6L834.1 318.5L845 304.2" stroke="#000" stroke-width="2.2" fill="none" stroke-linecap="round" stroke-linejoin="miter"/>
<g fill="none" stroke="#000" stroke-linecap="round"><path d="M697.7 141.7C698.6 139.3 700.6 138.3 702.1 139.5C703.5 140.7 704.1 143.6 704.4 147.6" stroke-width="1.3"/><path d="M709.1 138.7L704.5 148.6" stroke-width="2.3"/><path d="M704.5 147.6C704.3 150.6 703.5 152.6 703.3 154.9" stroke-width="2"/></g>
<g font-family="Liberation Serif" font-size="27" fill="#000" text-anchor="middle">
<text x="601" y="394.1" text-anchor="middle" font-size="27.6">1.0</text>
<text x="681.7" y="394.1" text-anchor="middle" font-size="27.6">1.2</text>
<text x="762.3" y="394.1" text-anchor="middle" font-size="27.6">1.4</text>
<text x="843" y="394.1" text-anchor="middle" font-size="27.6">1.6</text>
<text x="923.6" y="394.1" text-anchor="middle" font-size="27.6">1.8</text>
<text x="1004.3" y="394.1" text-anchor="middle" font-size="27.6">2.0</text>
<text x="703.5" y="181.6" font-size="27.6">(4.16Å)</text>
<text x="672.5" y="264.4" font-size="27.6">α1</text>
<text x="672.5" y="296" font-size="27.6">(4.39Å)</text>
<text x="933" y="254.3" font-size="27.6">α2</text>
<text x="933" y="286.6" font-size="27.6">(3.75Å)</text>
<text x="905.6" y="199.5" font-size="27.6">Amorphous</text>
</g>
<g font-family="Liberation Serif" font-weight="bold" font-size="27" fill="#000">
<text x="973.5" y="31.1" font-size="28">b</text>
<text x="802.5" y="425.7" text-anchor="middle" letter-spacing="0.6">q(Å<tspan font-size="17" dy="-9">-1</tspan><tspan dy="9">)</tspan></text>
<text transform="translate(576.9 176.3) rotate(-90)" text-anchor="middle" font-size="27.7">I (Counts)</text>
</g>
</svg>
</body></html>
